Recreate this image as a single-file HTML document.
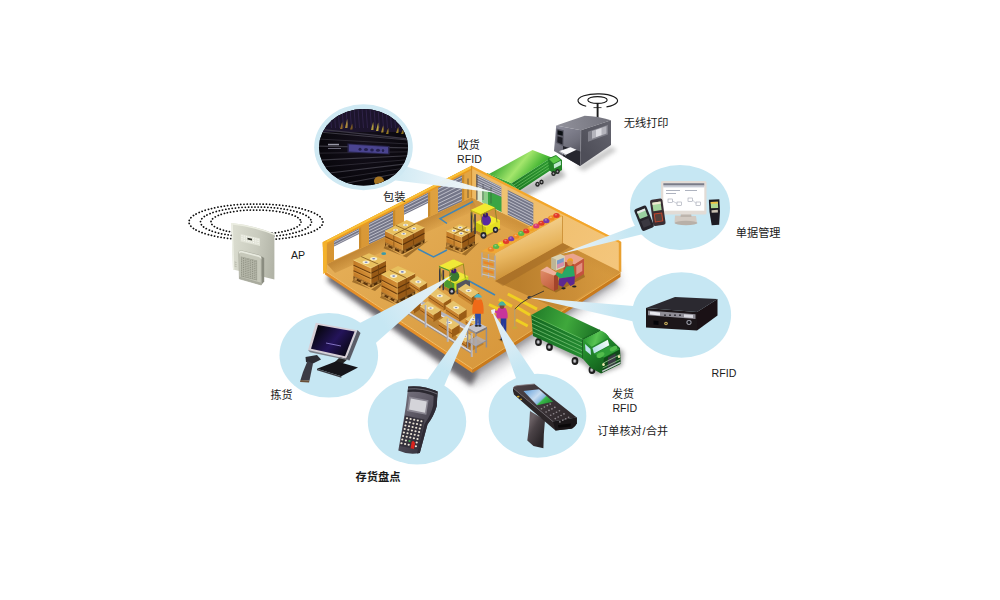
<!DOCTYPE html>
<html><head><meta charset="utf-8"><title>RFID warehouse</title>
<style>
html,body{margin:0;padding:0;background:#fff;}
body{width:1000px;height:600px;overflow:hidden;font-family:"Liberation Sans","Noto Sans CJK SC",sans-serif;}
svg{display:block;}
svg text{font-family:"Liberation Sans","Noto Sans CJK SC",sans-serif;}
</style></head><body>
<svg width="1000" height="600" viewBox="0 0 1000 600">
<defs>
<filter id="blur6" x="-20%" y="-20%" width="140%" height="140%"><feGaussianBlur stdDeviation="5"/></filter>
<filter id="blur2" x="-20%" y="-20%" width="140%" height="140%"><feGaussianBlur stdDeviation="2"/></filter>
<filter id="blur1" x="-20%" y="-20%" width="140%" height="140%"><feGaussianBlur stdDeviation="0.7"/></filter>
<filter id="blur3" x="-20%" y="-20%" width="140%" height="140%"><feGaussianBlur stdDeviation="2.6"/></filter>
<linearGradient id="t1top" gradientUnits="userSpaceOnUse" x1="500" y1="160" x2="532" y2="186"><stop offset="0" stop-color="#3aa832" stop-opacity="1"/><stop offset="0.45" stop-color="#a4e66c" stop-opacity="1"/><stop offset="0.8" stop-color="#4cba38" stop-opacity="1"/><stop offset="1" stop-color="#2f9a2a" stop-opacity="1"/></linearGradient>
<linearGradient id="t1side" gradientUnits="userSpaceOnUse" x1="515" y1="188" x2="552" y2="164"><stop offset="0" stop-color="#1f7a25" stop-opacity="1"/><stop offset="1" stop-color="#2c9a30" stop-opacity="1"/></linearGradient>
<linearGradient id="floor" gradientUnits="userSpaceOnUse" x1="380" y1="200" x2="520" y2="360"><stop offset="0" stop-color="#e6b059" stop-opacity="1"/><stop offset="0.5" stop-color="#dea349" stop-opacity="1"/><stop offset="1" stop-color="#d7963a" stop-opacity="1"/></linearGradient>
<linearGradient id="lws" gradientUnits="userSpaceOnUse" x1="400" y1="230" x2="408" y2="246"><stop offset="0" stop-color="#a86a1c" stop-opacity="0.55"/><stop offset="1" stop-color="#a86a1c" stop-opacity="0"/></linearGradient>
<linearGradient id="rws" gradientUnits="userSpaceOnUse" x1="545" y1="235" x2="540" y2="247"><stop offset="0" stop-color="#b87a28" stop-opacity="0.4"/><stop offset="1" stop-color="#b87a28" stop-opacity="0"/></linearGradient>
<linearGradient id="lw" gradientUnits="userSpaceOnUse" x1="330" y1="260" x2="470" y2="180"><stop offset="0" stop-color="#d69432" stop-opacity="1"/><stop offset="1" stop-color="#e2a544" stop-opacity="1"/></linearGradient>
<linearGradient id="rw" gradientUnits="userSpaceOnUse" x1="475" y1="180" x2="620" y2="260"><stop offset="0" stop-color="#edb962" stop-opacity="1"/><stop offset="1" stop-color="#f4c67c" stop-opacity="1"/></linearGradient>
<linearGradient id="offl" gradientUnits="userSpaceOnUse" x1="520" y1="262" x2="612" y2="262"><stop offset="0" stop-color="#b97e2c" stop-opacity="0.95"/><stop offset="0.6" stop-color="#c88c36" stop-opacity="0.8"/><stop offset="1" stop-color="#d29a42" stop-opacity="0.35"/></linearGradient>
<linearGradient id="shelf" gradientUnits="userSpaceOnUse" x1="520" y1="232" x2="532" y2="268"><stop offset="0" stop-color="#f2cc86" stop-opacity="1"/><stop offset="0.5" stop-color="#e8b660" stop-opacity="1"/><stop offset="1" stop-color="#cf943a" stop-opacity="1"/></linearGradient>
<linearGradient id="bsl385" gradientUnits="userSpaceOnUse" x1="385" y1="0" x2="402.5" y2="0"><stop offset="0" stop-color="#c27a26" stop-opacity="1"/><stop offset="1" stop-color="#d49038" stop-opacity="1"/></linearGradient>
<linearGradient id="bsl446" gradientUnits="userSpaceOnUse" x1="446.5" y1="0" x2="461.7" y2="0"><stop offset="0" stop-color="#c27a26" stop-opacity="1"/><stop offset="1" stop-color="#d49038" stop-opacity="1"/></linearGradient>
<linearGradient id="bsl353" gradientUnits="userSpaceOnUse" x1="353.5" y1="0" x2="371" y2="0"><stop offset="0" stop-color="#c27a26" stop-opacity="1"/><stop offset="1" stop-color="#d49038" stop-opacity="1"/></linearGradient>
<linearGradient id="bsl381" gradientUnits="userSpaceOnUse" x1="381.5" y1="0" x2="397.3" y2="0"><stop offset="0" stop-color="#c27a26" stop-opacity="1"/><stop offset="1" stop-color="#d49038" stop-opacity="1"/></linearGradient>
<linearGradient id="dk1" gradientUnits="userSpaceOnUse" x1="541" y1="272" x2="554" y2="290"><stop offset="0" stop-color="#de8866" stop-opacity="1"/><stop offset="1" stop-color="#c05c3a" stop-opacity="1"/></linearGradient>
<linearGradient id="t2top" gradientUnits="userSpaceOnUse" x1="535" y1="312" x2="598" y2="336"><stop offset="0" stop-color="#237f2a" stop-opacity="1"/><stop offset="0.5" stop-color="#3fa83c" stop-opacity="1"/><stop offset="1" stop-color="#1a7024" stop-opacity="1"/></linearGradient>
<linearGradient id="t2side" gradientUnits="userSpaceOnUse" x1="533" y1="320" x2="582" y2="350"><stop offset="0" stop-color="#166a22" stop-opacity="1"/><stop offset="1" stop-color="#238a30" stop-opacity="1"/></linearGradient>
<linearGradient id="t2cab" gradientUnits="userSpaceOnUse" x1="584" y1="345" x2="604" y2="372"><stop offset="0" stop-color="#2a9632" stop-opacity="1"/><stop offset="0.5" stop-color="#1c7a26" stop-opacity="1"/><stop offset="1" stop-color="#125a1a" stop-opacity="1"/></linearGradient>
<linearGradient id="t2roof" gradientUnits="userSpaceOnUse" x1="586" y1="336" x2="606" y2="342"><stop offset="0" stop-color="#2f9e36" stop-opacity="1"/><stop offset="0.5" stop-color="#58c452" stop-opacity="1"/><stop offset="1" stop-color="#2a9232" stop-opacity="1"/></linearGradient>
<linearGradient id="t2ws" gradientUnits="userSpaceOnUse" x1="593" y1="350" x2="608" y2="342"><stop offset="0" stop-color="#b8e0e8" stop-opacity="1"/><stop offset="1" stop-color="#f0faf6" stop-opacity="1"/></linearGradient>
<linearGradient id="tl1" gradientUnits="userSpaceOnUse" x1="370.0" y1="331.5" x2="452.0" y2="275.2"><stop offset="0" stop-color="#c6e7f3" stop-opacity="1"/><stop offset="0.15" stop-color="#c6e7f3" stop-opacity="1"/><stop offset="0.5" stop-color="#d8ecf5" stop-opacity="1"/><stop offset="1" stop-color="#e9f4fa" stop-opacity="0.96"/></linearGradient>
<linearGradient id="tl2" gradientUnits="userSpaceOnUse" x1="436.5" y1="381.0" x2="474.6" y2="313.5"><stop offset="0" stop-color="#c6e7f3" stop-opacity="1"/><stop offset="0.15" stop-color="#c6e7f3" stop-opacity="1"/><stop offset="0.5" stop-color="#d8ecf5" stop-opacity="1"/><stop offset="1" stop-color="#e9f4fa" stop-opacity="0.96"/></linearGradient>
<linearGradient id="tl3" gradientUnits="userSpaceOnUse" x1="526.0" y1="378.0" x2="491.5" y2="310.0"><stop offset="0" stop-color="#c6e7f3" stop-opacity="1"/><stop offset="0.15" stop-color="#c6e7f3" stop-opacity="1"/><stop offset="0.5" stop-color="#d8ecf5" stop-opacity="1"/><stop offset="1" stop-color="#e9f4fa" stop-opacity="0.96"/></linearGradient>
<linearGradient id="tl4" gradientUnits="userSpaceOnUse" x1="633.5" y1="313.8" x2="529.0" y2="297.5"><stop offset="0" stop-color="#c6e7f3" stop-opacity="1"/><stop offset="0.15" stop-color="#c6e7f3" stop-opacity="1"/><stop offset="0.5" stop-color="#d8ecf5" stop-opacity="1"/><stop offset="1" stop-color="#e9f4fa" stop-opacity="0.96"/></linearGradient>
<linearGradient id="tl5" gradientUnits="userSpaceOnUse" x1="641.2" y1="229.2" x2="561.0" y2="254.0"><stop offset="0" stop-color="#c6e7f3" stop-opacity="1"/><stop offset="0.15" stop-color="#c6e7f3" stop-opacity="1"/><stop offset="0.5" stop-color="#d8ecf5" stop-opacity="1"/><stop offset="1" stop-color="#e9f4fa" stop-opacity="0.96"/></linearGradient>
<linearGradient id="tl6" gradientUnits="userSpaceOnUse" x1="402" y1="174" x2="495" y2="192"><stop offset="0" stop-color="#d3ebf4" stop-opacity="1"/><stop offset="0.35" stop-color="#e4f2f8" stop-opacity="0.97"/><stop offset="1" stop-color="#f8fcfe" stop-opacity="0.95"/></linearGradient>
<linearGradient id="scr1" gradientUnits="userSpaceOnUse" x1="318" y1="328" x2="350" y2="354"><stop offset="0" stop-color="#07060f" stop-opacity="1"/><stop offset="0.5" stop-color="#24145a" stop-opacity="1"/><stop offset="1" stop-color="#06050c" stop-opacity="1"/></linearGradient>
<linearGradient id="hh1" gradientUnits="userSpaceOnUse" x1="400" y1="395" x2="436" y2="430"><stop offset="0" stop-color="#76727e" stop-opacity="1"/><stop offset="0.5" stop-color="#5a5662" stop-opacity="1"/><stop offset="1" stop-color="#3c3944" stop-opacity="1"/></linearGradient>
<linearGradient id="gh" gradientUnits="userSpaceOnUse" x1="528" y1="425" x2="545" y2="435"><stop offset="0" stop-color="#6a6064" stop-opacity="1"/><stop offset="0.35" stop-color="#4a4246" stop-opacity="1"/><stop offset="1" stop-color="#2a2528" stop-opacity="1"/></linearGradient>
<linearGradient id="gd" gradientUnits="userSpaceOnUse" x1="515" y1="388" x2="570" y2="424"><stop offset="0" stop-color="#4a4044" stop-opacity="1"/><stop offset="1" stop-color="#2e282b" stop-opacity="1"/></linearGradient>
<linearGradient id="gs" gradientUnits="userSpaceOnUse" x1="530" y1="389" x2="545" y2="405"><stop offset="0" stop-color="#7aaee0" stop-opacity="1"/><stop offset="0.45" stop-color="#c8dcf0" stop-opacity="1"/><stop offset="0.7" stop-color="#8ab8e0" stop-opacity="1"/><stop offset="0.78" stop-color="#38b848" stop-opacity="1"/><stop offset="1" stop-color="#2a9a3a" stop-opacity="1"/></linearGradient>
<clipPath id="dkc"><ellipse cx="363.5" cy="147.3" rx="44.5" ry="38.3"/></clipPath>
<radialGradient id="dkbg" cx="0.5" cy="0.45" r="0.6"><stop offset="0" stop-color="#15101c"/><stop offset="1" stop-color="#060509"/></radialGradient>
<linearGradient id="apb" gradientUnits="userSpaceOnUse" x1="232" y1="250" x2="275" y2="256"><stop offset="0" stop-color="#dadccf" stop-opacity="1"/><stop offset="0.55" stop-color="#c9cbbe" stop-opacity="1"/><stop offset="1" stop-color="#b2b4a7" stop-opacity="1"/></linearGradient>
<pattern id="mesh" width="1.8" height="1.8" patternUnits="userSpaceOnUse"><rect width="1.8" height="1.8" fill="#b4b6a8"/><rect width="0.9" height="0.9" fill="#8a8c7e"/></pattern>
<linearGradient id="ptop" gradientUnits="userSpaceOnUse" x1="560" y1="128" x2="606" y2="118"><stop offset="0" stop-color="#90909a" stop-opacity="1"/><stop offset="1" stop-color="#74747e" stop-opacity="1"/></linearGradient>
<linearGradient id="pfr" gradientUnits="userSpaceOnUse" x1="556" y1="130" x2="575" y2="160"><stop offset="0" stop-color="#8a8a98" stop-opacity="1"/><stop offset="0.55" stop-color="#70707c" stop-opacity="1"/><stop offset="1" stop-color="#4a4a54" stop-opacity="1"/></linearGradient>
<linearGradient id="pside" gradientUnits="userSpaceOnUse" x1="582" y1="150" x2="611" y2="128"><stop offset="0" stop-color="#4e4e58" stop-opacity="1"/><stop offset="1" stop-color="#62626c" stop-opacity="1"/></linearGradient>
</defs>
<polygon points="333.0,281.0 474.5,386.0 621.5,284.0 614.5,263.0 472.5,349.0" fill="#8a8a90" opacity="0.45" filter="url(#blur6)"/>
<polygon points="327.0,281.0 471.5,386.0 476.5,375.0 472.5,353.0 331.0,267.0" fill="#4e4a50" opacity="0.8" filter="url(#blur3)"/>
<polygon points="470.5,379.0 616.5,282.0 612.5,265.0 472.5,353.0" fill="#6a666a" opacity="0.5" filter="url(#blur3)"/>
<polygon points="512.0,192.0 560.0,168.0 566.0,176.0 524.0,198.0" fill="#777" opacity="0.5" filter="url(#blur2)"/>
<polygon points="487.0,173.0 511.7,183.3 519.0,191.0 514.0,200.0 487.0,188.0" fill="#3aa63a" />
<polygon points="489.0,174.0 532.5,150.0 551.7,157.5 511.7,183.3" fill="url(#t1top)" />
<polygon points="511.7,183.3 551.7,157.5 552.5,169.0 519.0,191.0" fill="url(#t1side)" />
<line x1="513.5" y1="185.2" x2="551.9" y2="160.4" stroke="#7fd070" stroke-width="0.6" />
<line x1="515.4" y1="187.2" x2="552.1" y2="163.2" stroke="#7fd070" stroke-width="0.6" />
<line x1="517.2" y1="189.1" x2="552.3" y2="166.1" stroke="#7fd070" stroke-width="0.6" />
<polygon points="548.0,158.5 556.0,155.0 562.0,160.0 562.0,170.0 555.0,174.5 549.0,170.0" fill="#238428" />
<polygon points="549.0,159.0 556.0,156.0 560.5,160.0 553.5,163.5" fill="#5cc848" />
<polygon points="553.8,164.2 560.8,160.8 561.0,165.0 554.0,168.6" fill="#bfe8d0" />
<ellipse cx="553.5" cy="173.5" rx="2.2" ry="2.5" fill="#222" />
<ellipse cx="553.5" cy="173.5" rx="0.9" ry="1.1" fill="#a8a8a8" />
<ellipse cx="557.5" cy="171.5" rx="2.2" ry="2.5" fill="#222" />
<ellipse cx="557.5" cy="171.5" rx="0.9" ry="1.1" fill="#a8a8a8" />
<ellipse cx="541.5" cy="182.0" rx="2.2" ry="2.5" fill="#222" />
<ellipse cx="541.5" cy="182.0" rx="0.9" ry="1.1" fill="#a8a8a8" />
<ellipse cx="537.5" cy="184.2" rx="2.2" ry="2.5" fill="#222" />
<ellipse cx="537.5" cy="184.2" rx="0.9" ry="1.1" fill="#a8a8a8" />
<polygon points="327.0,264.0 325.0,271.0 472.5,369.0 620.5,273.0 620.5,267.0 471.6,191.5 327.0,258.0" fill="url(#floor)" />
<polygon points="325.0,271.0 472.5,369.0 472.5,373.0 325.0,274.5" fill="#e58f28" />
<polygon points="472.5,369.0 620.5,273.0 620.5,277.0 472.5,373.0" fill="#c97a1c" />
<line x1="325.0" y1="271.0" x2="472.5" y2="369.0" stroke="#f4c067" stroke-width="1" />
<line x1="472.5" y1="369.0" x2="620.5" y2="273.0" stroke="#eab050" stroke-width="1" />
<polygon points="327.0,264.0 471.6,197.5 477.6,209.5 335.0,273.0" fill="url(#lws)" />
<polygon points="471.6,197.5 620.3,271.7 612.0,280.0 469.6,209.5" fill="url(#rws)" />
<polygon points="322.8,242.2 471.6,165.8 471.6,197.5 327.0,264.0 327.0,268.5 323.4,270.4" fill="url(#lw)" />
<polygon points="334.0,241.0 359.0,228.2 359.0,248.8 334.0,260.3" fill="#ffffff" />
<polygon points="334.0,241.0 359.0,228.2 359.0,234.0 334.0,246.4" fill="#747688" />
<line x1="334.0" y1="242.4" x2="359.0" y2="229.7" stroke="#dcdce4" stroke-width="0.7" />
<line x1="334.0" y1="245.1" x2="359.0" y2="232.5" stroke="#dcdce4" stroke-width="0.7" />
<polygon points="359.0,228.2 361.2,227.1 361.2,247.7 359.0,248.8" fill="#c98a2c" />
<polygon points="369.0,223.1 393.0,210.8 393.0,233.1 369.0,244.2" fill="#747688" />
<line x1="369.0" y1="224.6" x2="393.0" y2="212.4" stroke="#dcdce4" stroke-width="0.7" />
<line x1="369.0" y1="227.6" x2="393.0" y2="215.6" stroke="#dcdce4" stroke-width="0.7" />
<line x1="369.0" y1="230.6" x2="393.0" y2="218.8" stroke="#dcdce4" stroke-width="0.7" />
<line x1="369.0" y1="233.6" x2="393.0" y2="222.0" stroke="#dcdce4" stroke-width="0.7" />
<line x1="369.0" y1="236.6" x2="393.0" y2="225.2" stroke="#dcdce4" stroke-width="0.7" />
<line x1="369.0" y1="239.7" x2="393.0" y2="228.3" stroke="#dcdce4" stroke-width="0.7" />
<line x1="369.0" y1="242.7" x2="393.0" y2="231.5" stroke="#dcdce4" stroke-width="0.7" />
<polygon points="393.0,210.8 395.2,209.7 395.2,232.0 393.0,233.1" fill="#c98a2c" />
<polygon points="404.0,205.1 428.0,192.8 428.0,217.1 404.0,228.1" fill="#ffffff" />
<polygon points="404.0,205.1 428.0,192.8 428.0,203.0 404.0,214.8" fill="#747688" />
<line x1="404.0" y1="206.7" x2="428.0" y2="194.5" stroke="#dcdce4" stroke-width="0.7" />
<line x1="404.0" y1="209.9" x2="428.0" y2="197.9" stroke="#dcdce4" stroke-width="0.7" />
<line x1="404.0" y1="213.2" x2="428.0" y2="201.3" stroke="#dcdce4" stroke-width="0.7" />
<polygon points="428.0,192.8 430.2,191.7 430.2,216.0 428.0,217.1" fill="#c98a2c" />
<polygon points="438.0,187.7 462.0,175.3 462.0,201.4 438.0,212.5" fill="#747688" />
<line x1="438.0" y1="189.4" x2="462.0" y2="177.2" stroke="#dcdce4" stroke-width="0.7" />
<line x1="438.0" y1="193.0" x2="462.0" y2="180.9" stroke="#dcdce4" stroke-width="0.7" />
<line x1="438.0" y1="196.5" x2="462.0" y2="184.6" stroke="#dcdce4" stroke-width="0.7" />
<line x1="438.0" y1="200.1" x2="462.0" y2="188.4" stroke="#dcdce4" stroke-width="0.7" />
<line x1="438.0" y1="203.6" x2="462.0" y2="192.1" stroke="#dcdce4" stroke-width="0.7" />
<line x1="438.0" y1="207.1" x2="462.0" y2="195.8" stroke="#dcdce4" stroke-width="0.7" />
<line x1="438.0" y1="210.7" x2="462.0" y2="199.6" stroke="#dcdce4" stroke-width="0.7" />
<polygon points="462.0,175.3 464.2,174.2 464.2,200.3 462.0,201.4" fill="#c98a2c" />
<polygon points="322.8,242.2 471.6,165.8 471.6,170.1 322.8,246.7" fill="#ea9a20" />
<polygon points="322.8,242.2 471.6,165.8 471.6,168.2 322.8,244.8" fill="#f9c038" />
<polygon points="322.8,242.2 326.8,240.3 326.8,272.0 323.2,274.0" fill="#f4b22c" />
<polygon points="471.6,165.8 620.3,241.3 620.3,271.7 471.6,197.5" fill="url(#rw)" />
<polygon points="476.5,174.3 502.0,187.2 502.0,212.7 476.5,199.9" fill="#dfe9cf" />
<polygon points="488.0,191.1 502.0,193.2 502.0,212.2 488.0,205.2" fill="#39a544" />
<polygon points="482.0,190.1 488.0,191.1 488.0,205.2 482.0,202.2" fill="#8fce8a" />
<polygon points="476.5,174.3 502.0,187.2 502.0,197.2 476.5,186.3" fill="#77798a" />
<line x1="476.5" y1="175.5" x2="502.0" y2="188.2" stroke="#d8d8e0" stroke-width="0.7" />
<line x1="476.5" y1="177.9" x2="502.0" y2="190.2" stroke="#d8d8e0" stroke-width="0.7" />
<line x1="476.5" y1="180.3" x2="502.0" y2="192.2" stroke="#d8d8e0" stroke-width="0.7" />
<line x1="476.5" y1="182.7" x2="502.0" y2="194.2" stroke="#d8d8e0" stroke-width="0.7" />
<line x1="476.5" y1="185.1" x2="502.0" y2="196.2" stroke="#d8d8e0" stroke-width="0.7" />
<line x1="476.9" y1="174.3" x2="476.9" y2="199.9" stroke="#4a3a2a" stroke-width="1" />
<line x1="468.0" y1="178.5" x2="468.0" y2="198.0" stroke="#5a4a30" stroke-width="1" opacity="0.8"/>
<line x1="483.0" y1="184.0" x2="483.0" y2="200.0" stroke="#4a4a50" stroke-width="0.8" opacity="0.8"/>
<line x1="491.0" y1="187.0" x2="491.0" y2="203.5" stroke="#3a5a40" stroke-width="0.8" opacity="0.8"/>
<line x1="483.0" y1="188.0" x2="491.0" y2="191.5" stroke="#4a4a50" stroke-width="0.8" opacity="0.8"/>
<polygon points="507.5,190.0 533.3,203.1 533.3,227.3 507.5,214.4" fill="#747688" />
<line x1="507.5" y1="191.6" x2="533.3" y2="204.6" stroke="#dcdce4" stroke-width="0.7" />
<line x1="507.5" y1="194.6" x2="533.3" y2="207.7" stroke="#dcdce4" stroke-width="0.7" />
<line x1="507.5" y1="197.6" x2="533.3" y2="210.7" stroke="#dcdce4" stroke-width="0.7" />
<line x1="507.5" y1="200.7" x2="533.3" y2="213.7" stroke="#dcdce4" stroke-width="0.7" />
<line x1="507.5" y1="203.7" x2="533.3" y2="216.7" stroke="#dcdce4" stroke-width="0.7" />
<line x1="507.5" y1="206.8" x2="533.3" y2="219.7" stroke="#dcdce4" stroke-width="0.7" />
<line x1="507.5" y1="209.8" x2="533.3" y2="222.8" stroke="#dcdce4" stroke-width="0.7" />
<line x1="507.5" y1="212.9" x2="533.3" y2="225.8" stroke="#dcdce4" stroke-width="0.7" />
<polygon points="501.5,183.0 507.5,186.0 507.5,215.4 501.5,212.4" fill="#f0c270" />
<polygon points="471.6,165.8 620.3,241.3 620.3,243.5 471.6,168.2" fill="#f3a62a" />
<polygon points="618.8,240.8 621.3,242.1 621.3,272.0 618.8,271.0" fill="#e9a030" />
<line x1="471.6" y1="165.8" x2="471.6" y2="197.5" stroke="#c98628" stroke-width="1" />
<polygon points="495.0,281.0 562.5,243.0 620.0,271.5 560.0,310.0" fill="url(#offl)" />
<polygon points="495.0,281.0 562.5,243.0 570.0,247.0 503.0,286.0" fill="#9a6420" opacity="0.45" filter="url(#blur1)"/>
<polygon points="495.0,253.5 562.5,216.0 562.5,243.0 495.0,281.0" fill="url(#shelf)" />
<polygon points="481.7,251.0 556.0,213.5 562.5,216.0 495.0,253.5" fill="#f0a836" />
<line x1="562.5" y1="216.0" x2="562.5" y2="243.0" stroke="#c88a30" stroke-width="0.8" />
<ellipse cx="491.0" cy="249.2" rx="3.2" ry="2.5" fill="#e8862a" />
<ellipse cx="490.4" cy="248.4" rx="1.2" ry="0.8" fill="#ffffff" opacity="0.35"/>
<ellipse cx="496.1" cy="246.6" rx="3.2" ry="2.5" fill="#58b848" />
<ellipse cx="495.5" cy="245.8" rx="1.2" ry="0.8" fill="#ffffff" opacity="0.35"/>
<ellipse cx="501.1" cy="244.0" rx="3.2" ry="2.5" fill="#f0d020" />
<ellipse cx="500.5" cy="243.2" rx="1.2" ry="0.8" fill="#ffffff" opacity="0.35"/>
<ellipse cx="506.1" cy="241.4" rx="3.2" ry="2.5" fill="#e23a2a" />
<ellipse cx="505.5" cy="240.6" rx="1.2" ry="0.8" fill="#ffffff" opacity="0.35"/>
<ellipse cx="511.2" cy="238.8" rx="3.2" ry="2.5" fill="#7a3aa8" />
<ellipse cx="510.6" cy="238.0" rx="1.2" ry="0.8" fill="#ffffff" opacity="0.35"/>
<ellipse cx="516.2" cy="236.2" rx="3.2" ry="2.5" fill="#f08a20" />
<ellipse cx="515.6" cy="235.4" rx="1.2" ry="0.8" fill="#ffffff" opacity="0.35"/>
<ellipse cx="521.2" cy="233.6" rx="3.2" ry="2.5" fill="#58b848" />
<ellipse cx="520.6" cy="232.8" rx="1.2" ry="0.8" fill="#ffffff" opacity="0.35"/>
<ellipse cx="526.3" cy="231.1" rx="3.2" ry="2.5" fill="#e23a2a" />
<ellipse cx="525.7" cy="230.3" rx="1.2" ry="0.8" fill="#ffffff" opacity="0.35"/>
<ellipse cx="531.3" cy="228.5" rx="3.2" ry="2.5" fill="#f0a020" />
<ellipse cx="530.7" cy="227.7" rx="1.2" ry="0.8" fill="#ffffff" opacity="0.35"/>
<ellipse cx="536.3" cy="225.9" rx="3.2" ry="2.5" fill="#d83a70" />
<ellipse cx="535.7" cy="225.1" rx="1.2" ry="0.8" fill="#ffffff" opacity="0.35"/>
<ellipse cx="541.4" cy="223.3" rx="3.2" ry="2.5" fill="#e23a2a" />
<ellipse cx="540.8" cy="222.5" rx="1.2" ry="0.8" fill="#ffffff" opacity="0.35"/>
<ellipse cx="546.4" cy="220.7" rx="3.2" ry="2.5" fill="#7a3aa8" />
<ellipse cx="545.8" cy="219.9" rx="1.2" ry="0.8" fill="#ffffff" opacity="0.35"/>
<ellipse cx="551.4" cy="218.1" rx="3.2" ry="2.5" fill="#f08a20" />
<ellipse cx="550.8" cy="217.3" rx="1.2" ry="0.8" fill="#ffffff" opacity="0.35"/>
<ellipse cx="556.5" cy="215.5" rx="3.2" ry="2.5" fill="#e23a2a" />
<ellipse cx="555.9" cy="214.7" rx="1.2" ry="0.8" fill="#ffffff" opacity="0.35"/>
<polygon points="482.0,254.0 495.0,257.0 495.0,281.0 482.0,276.5" fill="#d9a04a" />
<line x1="482.0" y1="252.5" x2="482.0" y2="276.5" stroke="#a8a8b2" stroke-width="1.3" />
<line x1="488.5" y1="254.0" x2="488.5" y2="278.0" stroke="#a8a8b2" stroke-width="1.3" />
<line x1="495.0" y1="255.5" x2="495.0" y2="279.5" stroke="#a8a8b2" stroke-width="1.3" />
<line x1="482.0" y1="258.0" x2="495.0" y2="261.2" stroke="#c4c4cc" stroke-width="1.1" />
<line x1="482.0" y1="266.0" x2="495.0" y2="269.2" stroke="#c4c4cc" stroke-width="1.1" />
<line x1="482.0" y1="274.0" x2="495.0" y2="277.2" stroke="#c4c4cc" stroke-width="1.1" />
<polygon points="483.5,261.0 493.5,263.4 493.5,266.0 483.5,263.6" fill="#e8862a" />
<polygon points="483.5,269.0 493.5,271.4 493.5,274.0 483.5,271.6" fill="#e8862a" />
<polyline points="473,201.5 440,218.5 447,223.5" fill="none" stroke="#3f86b8" stroke-width="1.5"/>
<polyline points="418,249 433.5,257 447,250" fill="none" stroke="#3f86b8" stroke-width="1.5"/>
<ellipse cx="383.7" cy="253.7" rx="2.4" ry="1.4" fill="#3a9aa8" />
<line x1="465.8" y1="279.2" x2="495.0" y2="295.0" stroke="#3f86b8" stroke-width="1.6" />
<line x1="507.8" y1="294.0" x2="537.0" y2="309.2" stroke="#f2d51e" stroke-width="3" opacity="0.9"/>
<line x1="489.0" y1="304.5" x2="498.5" y2="309.0" stroke="#f2d51e" stroke-width="3" opacity="0.9"/>
<line x1="516.0" y1="306.8" x2="530.0" y2="315.0" stroke="#f2d51e" stroke-width="3" opacity="0.9"/>
<line x1="516.0" y1="319.7" x2="527.7" y2="326.0" stroke="#f2d51e" stroke-width="3" opacity="0.9"/>
<line x1="499.0" y1="299.5" x2="512.0" y2="306.3" stroke="#f2d51e" stroke-width="3" opacity="0.9"/>
<polygon points="385.0,245.8 402.5,256.0 424.5,242.5 428.5,240.5 406.5,257.5 383.5,248.3" fill="#6e4210" opacity="0.55" filter="url(#blur1)"/>
<polygon points="385.0,230.8 402.5,239.0 402.5,250.5 385.0,242.3" fill="url(#bsl385)" />
<polygon points="402.5,239.0 424.5,227.5 424.5,239.0 402.5,250.5" fill="#985a16" />
<polygon points="385.0,242.3 402.5,250.5 402.5,254.0 385.0,245.8" fill="#5e360c" />
<polygon points="402.5,250.5 424.5,239.0 424.5,242.5 402.5,254.0" fill="#4a2a08" />
<rect x="385.8" y="244.3" width="2.6" height="2.5" fill="#c08a40"/>
<rect x="403.9" y="250.1" width="2.4" height="2.5" fill="#9a6a28"/>
<rect x="392.4" y="247.4" width="2.6" height="2.5" fill="#c08a40"/>
<rect x="412.3" y="245.8" width="2.4" height="2.5" fill="#9a6a28"/>
<rect x="399.1" y="250.5" width="2.6" height="2.5" fill="#c08a40"/>
<rect x="420.7" y="241.4" width="2.4" height="2.5" fill="#9a6a28"/>
<line x1="385.0" y1="242.8" x2="402.5" y2="251.0" stroke="#b8823a" stroke-width="0.9" />
<line x1="402.5" y1="251.0" x2="424.5" y2="239.5" stroke="#8e5e22" stroke-width="0.9" />
<line x1="385.0" y1="236.6" x2="402.5" y2="244.8" stroke="#6e3f0e" stroke-width="1.2" />
<line x1="402.5" y1="244.8" x2="424.5" y2="233.2" stroke="#5a320a" stroke-width="1.2" />
<line x1="385.0" y1="237.7" x2="402.5" y2="245.8" stroke="#e2a850" stroke-width="0.5" />
<line x1="393.8" y1="234.9" x2="393.8" y2="246.4" stroke="#8a5618" stroke-width="0.8" />
<line x1="413.5" y1="233.2" x2="413.5" y2="244.8" stroke="#74440e" stroke-width="0.8" />
<line x1="402.5" y1="239.0" x2="402.5" y2="250.5" stroke="#e8b860" stroke-width="0.6" />
<polygon points="385.0,230.8 406.7,220.0 424.5,227.5 402.5,239.0" fill="#e8c05e" />
<line x1="395.9" y1="225.4" x2="413.5" y2="233.2" stroke="#8a6020" stroke-width="0.9" />
<line x1="393.8" y1="234.9" x2="415.6" y2="223.8" stroke="#8a6020" stroke-width="0.9" />
<ellipse cx="395.6" cy="230.0" rx="2.6" ry="1.3" fill="#f8f0d0" />
<ellipse cx="395.6" cy="230.0" rx="1.1" ry="0.6" fill="#7a86c0" />
<ellipse cx="405.6" cy="225.0" rx="2.6" ry="1.3" fill="#f8f0d0" />
<ellipse cx="405.6" cy="225.0" rx="1.1" ry="0.6" fill="#7a86c0" />
<ellipse cx="403.7" cy="233.7" rx="2.6" ry="1.3" fill="#f8f0d0" />
<ellipse cx="403.7" cy="233.7" rx="1.1" ry="0.6" fill="#7a86c0" />
<ellipse cx="413.8" cy="228.5" rx="2.6" ry="1.3" fill="#f8f0d0" />
<ellipse cx="413.8" cy="228.5" rx="1.1" ry="0.6" fill="#7a86c0" />
<line x1="385.0" y1="230.8" x2="402.5" y2="239.0" stroke="#f8e09a" stroke-width="0.6" />
<line x1="402.5" y1="239.0" x2="424.5" y2="227.5" stroke="#f2d488" stroke-width="0.6" />
<polygon points="446.5,246.0 461.7,254.0 475.0,244.5 479.0,242.5 465.7,255.5 445.0,248.5" fill="#6e4210" opacity="0.55" filter="url(#blur1)"/>
<polygon points="446.5,231.0 461.7,237.0 461.7,248.5 446.5,242.5" fill="url(#bsl446)" />
<polygon points="461.7,237.0 475.0,229.5 475.0,241.0 461.7,248.5" fill="#985a16" />
<polygon points="446.5,242.5 461.7,248.5 461.7,252.0 446.5,246.0" fill="#5e360c" />
<polygon points="461.7,248.5 475.0,241.0 475.0,244.5 461.7,252.0" fill="#4a2a08" />
<rect x="447.0" y="244.2" width="2.6" height="2.5" fill="#c08a40"/>
<rect x="462.1" y="248.6" width="2.4" height="2.5" fill="#9a6a28"/>
<rect x="452.8" y="246.5" width="2.6" height="2.5" fill="#c08a40"/>
<rect x="467.2" y="245.8" width="2.4" height="2.5" fill="#9a6a28"/>
<rect x="458.6" y="248.8" width="2.6" height="2.5" fill="#c08a40"/>
<rect x="472.2" y="242.9" width="2.4" height="2.5" fill="#9a6a28"/>
<line x1="446.5" y1="243.0" x2="461.7" y2="249.0" stroke="#b8823a" stroke-width="0.9" />
<line x1="461.7" y1="249.0" x2="475.0" y2="241.5" stroke="#8e5e22" stroke-width="0.9" />
<line x1="446.5" y1="236.8" x2="461.7" y2="242.8" stroke="#6e3f0e" stroke-width="1.2" />
<line x1="461.7" y1="242.8" x2="475.0" y2="235.2" stroke="#5a320a" stroke-width="1.2" />
<line x1="446.5" y1="237.8" x2="461.7" y2="243.8" stroke="#e2a850" stroke-width="0.5" />
<line x1="454.1" y1="234.0" x2="454.1" y2="245.5" stroke="#8a5618" stroke-width="0.8" />
<line x1="468.4" y1="233.2" x2="468.4" y2="244.8" stroke="#74440e" stroke-width="0.8" />
<line x1="461.7" y1="237.0" x2="461.7" y2="248.5" stroke="#e8b860" stroke-width="0.6" />
<polygon points="446.5,231.0 459.5,224.2 475.0,229.5 461.7,237.0" fill="#e8c05e" />
<line x1="453.0" y1="227.6" x2="468.4" y2="233.2" stroke="#8a6020" stroke-width="0.9" />
<line x1="454.1" y1="234.0" x2="467.2" y2="226.8" stroke="#8a6020" stroke-width="0.9" />
<ellipse cx="454.1" cy="230.7" rx="2.6" ry="1.3" fill="#f8f0d0" />
<ellipse cx="454.1" cy="230.7" rx="1.1" ry="0.6" fill="#7a86c0" />
<ellipse cx="460.2" cy="227.5" rx="2.6" ry="1.3" fill="#f8f0d0" />
<ellipse cx="460.2" cy="227.5" rx="1.1" ry="0.6" fill="#7a86c0" />
<ellipse cx="461.2" cy="233.4" rx="2.6" ry="1.3" fill="#f8f0d0" />
<ellipse cx="461.2" cy="233.4" rx="1.1" ry="0.6" fill="#7a86c0" />
<ellipse cx="467.2" cy="230.0" rx="2.6" ry="1.3" fill="#f8f0d0" />
<ellipse cx="467.2" cy="230.0" rx="1.1" ry="0.6" fill="#7a86c0" />
<line x1="446.5" y1="231.0" x2="461.7" y2="237.0" stroke="#f8e09a" stroke-width="0.6" />
<line x1="461.7" y1="237.0" x2="475.0" y2="229.5" stroke="#f2d488" stroke-width="0.6" />
<polygon points="353.5,279.5 371.0,289.5 386.0,280.0 390.0,278.0 375.0,291.0 352.0,282.0" fill="#6e4210" opacity="0.55" filter="url(#blur1)"/>
<polygon points="353.5,260.0 371.0,268.0 371.0,284.0 353.5,276.0" fill="url(#bsl353)" />
<polygon points="371.0,268.0 386.0,260.5 386.0,276.5 371.0,284.0" fill="#985a16" />
<polygon points="353.5,276.0 371.0,284.0 371.0,287.5 353.5,279.5" fill="#5e360c" />
<polygon points="371.0,284.0 386.0,276.5 386.0,280.0 371.0,287.5" fill="#4a2a08" />
<rect x="354.3" y="278.0" width="2.6" height="2.5" fill="#c08a40"/>
<rect x="371.6" y="284.1" width="2.4" height="2.5" fill="#9a6a28"/>
<rect x="360.9" y="281.0" width="2.6" height="2.5" fill="#c08a40"/>
<rect x="377.3" y="281.2" width="2.4" height="2.5" fill="#9a6a28"/>
<rect x="367.6" y="284.0" width="2.6" height="2.5" fill="#c08a40"/>
<rect x="383.0" y="278.4" width="2.4" height="2.5" fill="#9a6a28"/>
<line x1="353.5" y1="276.5" x2="371.0" y2="284.5" stroke="#b8823a" stroke-width="0.9" />
<line x1="371.0" y1="284.5" x2="386.0" y2="277.0" stroke="#8e5e22" stroke-width="0.9" />
<line x1="353.5" y1="265.3" x2="371.0" y2="273.3" stroke="#6e3f0e" stroke-width="1.2" />
<line x1="371.0" y1="273.3" x2="386.0" y2="265.8" stroke="#5a320a" stroke-width="1.2" />
<line x1="353.5" y1="266.4" x2="371.0" y2="274.4" stroke="#e2a850" stroke-width="0.5" />
<line x1="353.5" y1="270.7" x2="371.0" y2="278.7" stroke="#6e3f0e" stroke-width="1.2" />
<line x1="371.0" y1="278.7" x2="386.0" y2="271.2" stroke="#5a320a" stroke-width="1.2" />
<line x1="353.5" y1="271.8" x2="371.0" y2="279.8" stroke="#e2a850" stroke-width="0.5" />
<line x1="378.5" y1="264.2" x2="378.5" y2="280.2" stroke="#74440e" stroke-width="0.8" />
<line x1="371.0" y1="268.0" x2="371.0" y2="284.0" stroke="#e8b860" stroke-width="0.6" />
<polygon points="353.5,260.0 369.0,253.3 386.0,260.5 371.0,268.0" fill="#e8c05e" />
<line x1="361.2" y1="256.6" x2="378.5" y2="264.2" stroke="#8a6020" stroke-width="0.9" />
<ellipse cx="366.1" cy="262.2" rx="3.6" ry="1.8" fill="#f8f0d0" />
<ellipse cx="366.1" cy="262.2" rx="1.5" ry="0.8" fill="#7a86c0" />
<ellipse cx="373.7" cy="258.7" rx="3.6" ry="1.8" fill="#f8f0d0" />
<ellipse cx="373.7" cy="258.7" rx="1.5" ry="0.8" fill="#7a86c0" />
<line x1="353.5" y1="260.0" x2="371.0" y2="268.0" stroke="#f8e09a" stroke-width="0.6" />
<line x1="371.0" y1="268.0" x2="386.0" y2="260.5" stroke="#f2d488" stroke-width="0.6" />
<polygon points="381.5,295.2 397.3,305.4 415.2,294.4 419.2,292.4 401.3,306.9 380.0,297.7" fill="#6e4210" opacity="0.55" filter="url(#blur1)"/>
<polygon points="381.5,274.2 397.3,282.4 397.3,299.9 381.5,291.7" fill="url(#bsl381)" />
<polygon points="397.3,282.4 415.2,273.4 415.2,290.9 397.3,299.9" fill="#985a16" />
<polygon points="381.5,291.7 397.3,299.9 397.3,303.4 381.5,295.2" fill="#5e360c" />
<polygon points="397.3,299.9 415.2,290.9 415.2,294.4 397.3,303.4" fill="#4a2a08" />
<rect x="382.1" y="293.7" width="2.6" height="2.5" fill="#c08a40"/>
<rect x="398.2" y="299.8" width="2.4" height="2.5" fill="#9a6a28"/>
<rect x="388.1" y="296.8" width="2.6" height="2.5" fill="#c08a40"/>
<rect x="405.1" y="296.4" width="2.4" height="2.5" fill="#9a6a28"/>
<rect x="394.1" y="299.9" width="2.6" height="2.5" fill="#c08a40"/>
<rect x="411.9" y="293.0" width="2.4" height="2.5" fill="#9a6a28"/>
<line x1="381.5" y1="292.2" x2="397.3" y2="300.4" stroke="#b8823a" stroke-width="0.9" />
<line x1="397.3" y1="300.4" x2="415.2" y2="291.4" stroke="#8e5e22" stroke-width="0.9" />
<line x1="381.5" y1="280.0" x2="397.3" y2="288.2" stroke="#6e3f0e" stroke-width="1.2" />
<line x1="397.3" y1="288.2" x2="415.2" y2="279.2" stroke="#5a320a" stroke-width="1.2" />
<line x1="381.5" y1="281.1" x2="397.3" y2="289.3" stroke="#e2a850" stroke-width="0.5" />
<line x1="381.5" y1="285.9" x2="397.3" y2="294.1" stroke="#6e3f0e" stroke-width="1.2" />
<line x1="397.3" y1="294.1" x2="415.2" y2="285.1" stroke="#5a320a" stroke-width="1.2" />
<line x1="381.5" y1="287.0" x2="397.3" y2="295.2" stroke="#e2a850" stroke-width="0.5" />
<line x1="406.2" y1="277.9" x2="406.2" y2="295.4" stroke="#74440e" stroke-width="0.8" />
<line x1="397.3" y1="282.4" x2="397.3" y2="299.9" stroke="#e8b860" stroke-width="0.6" />
<polygon points="381.5,274.2 398.0,266.0 415.2,273.4 397.3,282.4" fill="#e8c05e" />
<line x1="389.8" y1="270.1" x2="406.2" y2="277.9" stroke="#8a6020" stroke-width="0.9" />
<ellipse cx="393.7" cy="276.1" rx="3.6" ry="1.8" fill="#f8f0d0" />
<ellipse cx="393.7" cy="276.1" rx="1.5" ry="0.8" fill="#7a86c0" />
<ellipse cx="402.3" cy="271.9" rx="3.6" ry="1.8" fill="#f8f0d0" />
<ellipse cx="402.3" cy="271.9" rx="1.5" ry="0.8" fill="#7a86c0" />
<line x1="381.5" y1="274.2" x2="397.3" y2="282.4" stroke="#f8e09a" stroke-width="0.6" />
<line x1="397.3" y1="282.4" x2="415.2" y2="273.4" stroke="#f2d488" stroke-width="0.6" />
<polygon points="470.0,229.3 484.0,238.3 501.0,229.3 490.0,222.3" fill="#7a4a10" opacity="0.45" filter="url(#blur1)"/>
<line x1="471.5" y1="212.3" x2="471.5" y2="232.3" stroke="#3a3a40" stroke-width="1.6" />
<line x1="475.0" y1="214.3" x2="475.0" y2="234.3" stroke="#3a3a40" stroke-width="1.6" />
<polygon points="476.0,222.3 490.0,215.8 500.0,220.3 500.0,228.3 486.0,235.3 476.0,230.3" fill="#e6de22" />
<polygon points="476.0,222.3 486.0,227.3 486.0,235.3 476.0,230.3" fill="#c8c010" />
<polygon points="476.0,222.3 490.0,215.8 500.0,220.3 486.0,227.3" fill="#f2ea30" />
<ellipse cx="486.0" cy="220.3" rx="5.0" ry="5.3" fill="#5a2aa0" />
<ellipse cx="485.5" cy="214.8" rx="2.6" ry="2.6" fill="#3a1a70" />
<ellipse cx="483.5" cy="235.3" rx="3.0" ry="3.4" fill="#26262c" />
<ellipse cx="483.5" cy="235.3" rx="1.3" ry="1.5" fill="#b8b8c8" />
<ellipse cx="495.5" cy="229.8" rx="2.7" ry="3.1" fill="#26262c" />
<ellipse cx="495.5" cy="229.8" rx="1.2" ry="1.4" fill="#b8b8c8" />
<line x1="471.0" y1="209.8" x2="475.0" y2="227.3" stroke="#8a8420" stroke-width="0.9" />
<line x1="485.0" y1="203.3" x2="485.3" y2="215.3" stroke="#8a8420" stroke-width="0.9" />
<line x1="495.0" y1="207.8" x2="497.0" y2="222.3" stroke="#8a8420" stroke-width="0.9" />
<line x1="481.0" y1="214.3" x2="483.0" y2="231.3" stroke="#8a8420" stroke-width="0.9" />
<polygon points="470.8,210.0 485.0,203.3 495.0,207.5 480.8,214.2" fill="#f2ea30" />
<polygon points="470.8,210.0 480.8,214.2 480.8,215.3 470.8,211.1" fill="#c8c010" />
<polygon points="480.8,214.2 495.0,207.5 495.0,208.6 480.8,215.3" fill="#b0a810" />
<polygon points="438.3,285.2 452.3,294.2 469.3,285.2 458.3,278.2" fill="#7a4a10" opacity="0.45" filter="url(#blur1)"/>
<line x1="439.8" y1="268.2" x2="439.8" y2="288.2" stroke="#3a3a40" stroke-width="1.6" />
<line x1="443.3" y1="270.2" x2="443.3" y2="290.2" stroke="#3a3a40" stroke-width="1.6" />
<polygon points="444.3,278.2 458.3,271.7 468.3,276.2 468.3,284.2 454.3,291.2 444.3,286.2" fill="#c8d820" />
<polygon points="444.3,278.2 454.3,283.2 454.3,291.2 444.3,286.2" fill="#4a9a30" />
<polygon points="444.3,278.2 458.3,271.7 468.3,276.2 454.3,283.2" fill="#f0e838" />
<ellipse cx="454.3" cy="276.2" rx="5.0" ry="5.3" fill="#3a7a30" />
<ellipse cx="453.8" cy="270.7" rx="2.6" ry="2.6" fill="#3a1a70" />
<ellipse cx="451.8" cy="291.2" rx="3.0" ry="3.4" fill="#26262c" />
<ellipse cx="451.8" cy="291.2" rx="1.3" ry="1.5" fill="#b8b8c8" />
<ellipse cx="463.8" cy="285.7" rx="2.7" ry="3.1" fill="#26262c" />
<ellipse cx="463.8" cy="285.7" rx="1.2" ry="1.4" fill="#b8b8c8" />
<line x1="439.3" y1="265.7" x2="443.3" y2="283.2" stroke="#8a8420" stroke-width="0.9" />
<line x1="453.3" y1="259.2" x2="453.6" y2="271.2" stroke="#8a8420" stroke-width="0.9" />
<line x1="463.3" y1="263.7" x2="465.3" y2="278.2" stroke="#8a8420" stroke-width="0.9" />
<line x1="449.3" y1="270.2" x2="451.3" y2="287.2" stroke="#8a8420" stroke-width="0.9" />
<polygon points="439.1,265.9 453.3,259.2 463.3,263.4 449.1,270.1" fill="#f0e838" />
<polygon points="439.1,265.9 449.1,270.1 449.1,271.2 439.1,267.0" fill="#4a9a30" />
<polygon points="449.1,270.1 463.3,263.4 463.3,264.5 449.1,271.2" fill="#b0a810" />
<polygon points="456.5,284.0 466.0,279.5 470.0,281.5 470.0,291.5 461.0,296.0 456.5,293.5" fill="#55555f" />
<polygon points="409.5,287.0 419.5,293.6 419.5,287.6 409.5,281.0" fill="#c88430" />
<polygon points="419.5,293.6 427.1,288.7 427.1,282.7 419.5,287.6" fill="#9a5c16" />
<line x1="409.5" y1="284.3" x2="419.5" y2="290.9" stroke="#8a5216" stroke-width="1.0" />
<polygon points="409.5,281.0 417.1,276.1 427.1,282.7 419.5,287.6" fill="#e8c46c" />
<ellipse cx="418.3" cy="281.8" rx="3.0" ry="1.5" fill="#f8f0d4" />
<ellipse cx="418.3" cy="281.8" rx="1.2" ry="0.6" fill="#7a86c0" />
<line x1="409.5" y1="281.0" x2="419.5" y2="287.6" stroke="#f6dc98" stroke-width="0.6" />
<polygon points="458.2,296.2 471.5,305.0 471.5,297.5 458.2,288.7" fill="#c88430" />
<polygon points="471.5,305.0 479.1,300.1 479.1,292.6 471.5,297.5" fill="#9a5c16" />
<line x1="458.2" y1="292.8" x2="471.5" y2="301.6" stroke="#8a5216" stroke-width="1.0" />
<polygon points="458.2,288.7 465.7,283.8 479.1,292.6 471.5,297.5" fill="#e8c46c" />
<ellipse cx="468.6" cy="290.6" rx="3.0" ry="1.5" fill="#f8f0d4" />
<ellipse cx="468.6" cy="290.6" rx="1.2" ry="0.6" fill="#7a86c0" />
<line x1="458.2" y1="288.7" x2="471.5" y2="297.5" stroke="#f6dc98" stroke-width="0.6" />
<polygon points="406.0,311.0 470.0,352.0 484.0,344.0 428.0,303.0" fill="#8a5414" opacity="0.4" filter="url(#blur1)"/>
<polygon points="428.5,300.6 443.5,310.6 443.5,303.1 428.5,293.1" fill="#c88430" />
<polygon points="443.5,310.6 451.1,305.7 451.1,298.2 443.5,303.1" fill="#9a5c16" />
<line x1="428.5" y1="297.3" x2="443.5" y2="307.2" stroke="#8a5216" stroke-width="1.0" />
<polygon points="428.5,293.1 436.1,288.2 451.1,298.2 443.5,303.1" fill="#e8c46c" />
<ellipse cx="439.8" cy="295.7" rx="3.0" ry="1.5" fill="#f8f0d4" />
<ellipse cx="439.8" cy="295.7" rx="1.2" ry="0.6" fill="#7a86c0" />
<line x1="428.5" y1="293.1" x2="443.5" y2="303.1" stroke="#f6dc98" stroke-width="0.6" />
<polygon points="445.7,313.2 459.0,322.0 459.0,314.5 445.7,305.7" fill="#c88430" />
<polygon points="459.0,322.0 466.6,317.1 466.6,309.6 459.0,314.5" fill="#9a5c16" />
<line x1="445.7" y1="309.8" x2="459.0" y2="318.6" stroke="#8a5216" stroke-width="1.0" />
<polygon points="445.7,305.7 453.2,300.8 466.6,309.6 459.0,314.5" fill="#e8c46c" />
<ellipse cx="456.1" cy="307.6" rx="3.0" ry="1.5" fill="#f8f0d4" />
<ellipse cx="456.1" cy="307.6" rx="1.2" ry="0.6" fill="#7a86c0" />
<line x1="445.7" y1="305.7" x2="459.0" y2="314.5" stroke="#f6dc98" stroke-width="0.6" />
<polygon points="465.7,325.0 474.0,330.5 474.0,324.5 465.7,319.0" fill="#c88430" />
<polygon points="474.0,330.5 480.7,326.1 480.7,320.1 474.0,324.5" fill="#9a5c16" />
<line x1="465.7" y1="322.3" x2="474.0" y2="327.8" stroke="#8a5216" stroke-width="1.0" />
<polygon points="465.7,319.0 472.4,314.6 480.7,320.1 474.0,324.5" fill="#e8c46c" />
<ellipse cx="473.2" cy="319.6" rx="3.0" ry="1.5" fill="#f8f0d4" />
<ellipse cx="473.2" cy="319.6" rx="1.2" ry="0.6" fill="#7a86c0" />
<line x1="465.7" y1="319.0" x2="474.0" y2="324.5" stroke="#f6dc98" stroke-width="0.6" />
<polygon points="416.0,301.5 419.5,299.5 470.5,327.5 467.0,329.8" fill="#b4b4be" />
<line x1="416.0" y1="301.5" x2="467.0" y2="329.8" stroke="#e2e2ea" stroke-width="1.4" />
<polygon points="409.8,310.6 414.0,313.4 414.0,306.9 409.8,304.1" fill="#c88430" />
<polygon points="414.0,313.4 420.7,309.0 420.7,302.5 414.0,306.9" fill="#9a5c16" />
<line x1="409.8" y1="307.7" x2="414.0" y2="310.5" stroke="#8a5216" stroke-width="1.0" />
<polygon points="409.8,304.1 416.5,299.8 420.7,302.5 414.0,306.9" fill="#e8c46c" />
<ellipse cx="415.3" cy="303.3" rx="3.0" ry="1.5" fill="#f8f0d4" />
<ellipse cx="415.3" cy="303.3" rx="1.2" ry="0.6" fill="#7a86c0" />
<line x1="409.8" y1="304.1" x2="414.0" y2="306.9" stroke="#f6dc98" stroke-width="0.6" />
<polygon points="420.2,313.2 433.5,322.0 433.5,315.0 420.2,306.2" fill="#c88430" />
<polygon points="433.5,322.0 441.1,317.1 441.1,310.1 433.5,315.0" fill="#9a5c16" />
<line x1="420.2" y1="310.0" x2="433.5" y2="318.9" stroke="#8a5216" stroke-width="1.0" />
<polygon points="420.2,306.2 427.7,301.3 441.1,310.1 433.5,315.0" fill="#e8c46c" />
<ellipse cx="430.6" cy="308.1" rx="3.0" ry="1.5" fill="#f8f0d4" />
<ellipse cx="430.6" cy="308.1" rx="1.2" ry="0.6" fill="#7a86c0" />
<line x1="420.2" y1="306.2" x2="433.5" y2="315.0" stroke="#f6dc98" stroke-width="0.6" />
<polygon points="438.7,328.6 452.0,337.4 452.0,329.4 438.7,320.6" fill="#c88430" />
<polygon points="452.0,337.4 459.6,332.5 459.6,324.5 452.0,329.4" fill="#9a5c16" />
<line x1="438.7" y1="325.0" x2="452.0" y2="333.8" stroke="#8a5216" stroke-width="1.0" />
<polygon points="438.7,320.6 446.2,315.7 459.6,324.5 452.0,329.4" fill="#e8c46c" />
<ellipse cx="449.1" cy="322.5" rx="3.0" ry="1.5" fill="#f8f0d4" />
<ellipse cx="449.1" cy="322.5" rx="1.2" ry="0.6" fill="#7a86c0" />
<line x1="438.7" y1="320.6" x2="452.0" y2="329.4" stroke="#f6dc98" stroke-width="0.6" />
<polygon points="456.0,342.4 466.0,349.0 466.0,342.0 456.0,335.4" fill="#c88430" />
<polygon points="466.0,349.0 473.6,344.1 473.6,337.1 466.0,342.0" fill="#9a5c16" />
<line x1="456.0" y1="339.2" x2="466.0" y2="345.9" stroke="#8a5216" stroke-width="1.0" />
<polygon points="456.0,335.4 463.6,330.5 473.6,337.1 466.0,342.0" fill="#e8c46c" />
<ellipse cx="464.8" cy="336.2" rx="3.0" ry="1.5" fill="#f8f0d4" />
<ellipse cx="464.8" cy="336.2" rx="1.2" ry="0.6" fill="#7a86c0" />
<line x1="456.0" y1="335.4" x2="466.0" y2="342.0" stroke="#f6dc98" stroke-width="0.6" />
<line x1="406.5" y1="311.5" x2="471.0" y2="351.8" stroke="#d6d6de" stroke-width="1.6" />
<line x1="406.5" y1="313.0" x2="471.0" y2="353.2" stroke="#8a8a94" stroke-width="0.9" />
<line x1="407.5" y1="299.0" x2="407.5" y2="313.0" stroke="#a6a6b0" stroke-width="1.6" />
<line x1="408.2" y1="299.0" x2="408.2" y2="313.0" stroke="#e6e6ee" stroke-width="0.5" />
<line x1="425.5" y1="305.0" x2="425.5" y2="327.5" stroke="#a6a6b0" stroke-width="1.6" />
<line x1="426.2" y1="305.0" x2="426.2" y2="327.5" stroke="#e6e6ee" stroke-width="0.5" />
<line x1="447.5" y1="318.5" x2="447.5" y2="341.8" stroke="#a6a6b0" stroke-width="1.6" />
<line x1="448.2" y1="318.5" x2="448.2" y2="341.8" stroke="#e6e6ee" stroke-width="0.5" />
<line x1="471.5" y1="333.0" x2="471.5" y2="357.0" stroke="#a6a6b0" stroke-width="1.6" />
<line x1="472.2" y1="333.0" x2="472.2" y2="357.0" stroke="#e6e6ee" stroke-width="0.5" />
<polygon points="467.0,327.5 478.0,322.5 487.0,327.0 476.0,332.5" fill="#c4c4cc" />
<polygon points="467.0,327.5 476.0,332.5 476.0,334.2 467.0,329.2" fill="#8e8e98" />
<polygon points="476.0,332.5 487.0,327.0 487.0,328.7 476.0,334.2" fill="#75757f" />
<line x1="467.6" y1="329.0" x2="467.6" y2="348.0" stroke="#8e8e98" stroke-width="1.5" />
<line x1="476.0" y1="334.0" x2="476.0" y2="353.0" stroke="#8e8e98" stroke-width="1.5" />
<line x1="486.4" y1="328.5" x2="486.4" y2="347.5" stroke="#8e8e98" stroke-width="1.5" />
<line x1="467.6" y1="341.0" x2="476.0" y2="346.0" stroke="#a2a2ac" stroke-width="1.1" />
<line x1="476.0" y1="346.0" x2="486.4" y2="340.5" stroke="#8a8a94" stroke-width="1.1" />
<polygon points="468.0,340.5 477.0,336.0 486.0,340.5 476.0,346.0" fill="#b0b0ba" opacity="0.8"/>
<polygon points="475.1,312.8 480.9,312.8 480.7,325.5 478.5,325.5 478.0,317.8 477.5,325.5 475.3,325.5" fill="#2a4aa8" />
<ellipse cx="476.5" cy="325.8" rx="1.8" ry="0.9" fill="#222" />
<ellipse cx="479.8" cy="325.8" rx="1.8" ry="0.9" fill="#222" />
<path d="M474.3,299.8 q-2.5,5.6 -1.8,14.0 l11.0,0 q0.7,-8.4 -1.8,-14.0 q-3.7,-1.6 -7.4,0 Z" fill="#f06a18"/>
<ellipse cx="478.0" cy="297.3" rx="2.5" ry="2.9" fill="#d88a50" />
<path d="M474.5,296.3 q3.4,-5.0 7,0 l0.3,1.2 l-7.6,0 Z" fill="#4ab8c8"/>
<polygon points="498.0,339.5 506.0,337.0 511.0,339.5 503.0,342.5" fill="#7a4a10" opacity="0.4" filter="url(#blur1)"/>
<polygon points="500.6,317.5 506.4,317.5 506.2,339.3 504.0,339.3 503.5,322.5 503.0,339.3 500.8,339.3" fill="#24389a" />
<ellipse cx="502.0" cy="339.6" rx="1.8" ry="0.9" fill="#222" />
<ellipse cx="505.3" cy="339.6" rx="1.8" ry="0.9" fill="#222" />
<path d="M498.3,308.3 q-2.5,4.1 -1.8,10.2 l11.0,0 q0.7,-6.1 -1.8,-10.2 q-3.7,-1.6 -7.4,0 Z" fill="#c8349a"/>
<ellipse cx="502.0" cy="305.4" rx="2.5" ry="3.4" fill="#7a4a30" />
<path d="M498.5,304.2 q3.4,-5.8 7,0 l0.3,1.2 l-7.6,0 Z" fill="#48b0a0"/>
<polygon points="491.0,310.0 495.0,309.0 495.8,313.0 491.8,314.0" fill="#f0f0f6" />
<line x1="495.0" y1="311.5" x2="498.0" y2="312.5" stroke="#c8349a" stroke-width="2" />
<line x1="514.8" y1="309.0" x2="514.8" y2="327.0" stroke="#a8a080" stroke-width="0.9" />
<ellipse cx="514.8" cy="327.8" rx="2.8" ry="1.3" fill="#c8a838" />
<path d="M514.8,309 Q520,303 530,297.5 L544,291" fill="none" stroke="#33302c" stroke-width="0.9"/>
<ellipse cx="529.5" cy="297.2" rx="2.0" ry="1.2" fill="#3a3a44" />
<polygon points="542.0,286.0 556.0,292.5 585.0,277.0 583.0,272.0" fill="#6a3e10" opacity="0.4" filter="url(#blur1)"/>
<polygon points="562.0,256.0 573.0,253.5 584.0,258.5 574.5,264.5 563.5,261.5" fill="#eaa48e" />
<polygon points="574.5,264.5 584.0,258.5 584.0,274.0 574.5,279.5" fill="#c4523e" />
<polygon points="576.3,266.3 582.3,262.6 582.3,271.0 576.3,274.8" fill="#e29080" />
<polygon points="563.5,261.5 574.5,264.5 574.5,279.5 563.5,275.5" fill="#b04a30" />
<polygon points="551.5,257.5 560.5,254.0 564.8,256.0 564.8,267.0 556.0,270.5 551.5,268.5" fill="#d9d2b4" />
<polygon points="551.5,257.5 556.0,259.5 556.0,270.5 551.5,268.5" fill="#bdb596" />
<polygon points="557.0,260.5 563.8,257.8 563.8,265.8 557.0,268.6" fill="#7a9ac8" />
<polygon points="557.0,264.5 563.8,261.8 563.8,265.8 557.0,268.6" fill="#d890a8" />
<path d="M540.5,270.5 L554,275.5 L554,291 L542.5,284.5 Q540.3,283 540.5,270.5 Z" fill="url(#dk1)"/>
<polygon points="554.0,275.5 558.0,273.5 558.0,289.0 554.0,291.0" fill="#a2442a" />
<polygon points="540.5,270.5 547.0,266.5 558.0,273.5 554.0,275.5" fill="#eeb09c" />
<ellipse cx="570.0" cy="262.5" rx="2.8" ry="3.2" fill="#d8904a" />
<path d="M567,262 q0.4,-4.2 3.6,-3.8 q2.8,0.4 2.4,3.4 l-2,-1 l-2.6,0.2 Z" fill="#f0a21c"/>
<path d="M566.5,266.5 L573.5,266 L574.8,276.5 L560,278.5 L555.5,274.5 L557,272 L562,274 Z" fill="#28a866"/>
<path d="M559,278.5 L574.8,276.3 L574.5,284 L570.5,286 L567,281.5 L563,287 L558.5,285 Z" fill="#5e2890"/>
<ellipse cx="574.3" cy="286.5" rx="2.2" ry="1.1" fill="#222" />
<ellipse cx="563.5" cy="288.3" rx="2.2" ry="1.1" fill="#222" />
<polygon points="536.0,340.0 584.0,364.0 596.0,376.0 622.0,366.0 624.0,352.0 600.0,334.0" fill="#666" opacity="0.55" filter="url(#blur2)"/>
<ellipse cx="538.5" cy="342.0" rx="3.4" ry="4.0" fill="#1c1c1c" />
<ellipse cx="538.2" cy="342.0" rx="1.7" ry="2.1" fill="#8e8e92" />
<ellipse cx="538.2" cy="342.0" rx="0.9" ry="1.1" fill="#d0d0d4" />
<ellipse cx="549.5" cy="347.0" rx="3.4" ry="4.0" fill="#1c1c1c" />
<ellipse cx="549.2" cy="347.0" rx="1.7" ry="2.1" fill="#8e8e92" />
<ellipse cx="549.2" cy="347.0" rx="0.9" ry="1.1" fill="#d0d0d4" />
<ellipse cx="575.0" cy="361.0" rx="3.4" ry="4.0" fill="#1c1c1c" />
<ellipse cx="574.7" cy="361.0" rx="1.7" ry="2.1" fill="#8e8e92" />
<ellipse cx="574.7" cy="361.0" rx="0.9" ry="1.1" fill="#d0d0d4" />
<ellipse cx="592.0" cy="370.0" rx="3.4" ry="4.0" fill="#1c1c1c" />
<ellipse cx="591.7" cy="370.0" rx="1.7" ry="2.1" fill="#8e8e92" />
<ellipse cx="591.7" cy="370.0" rx="0.9" ry="1.1" fill="#d0d0d4" />
<polygon points="531.3,315.0 548.3,305.8 600.0,330.0 582.5,339.2" fill="url(#t2top)" />
<polygon points="531.3,315.0 582.5,339.2 582.5,358.5 533.0,336.0" fill="url(#t2side)" />
<line x1="531.6" y1="319.2" x2="582.5" y2="343.1" stroke="#7fca7c" stroke-width="0.7" />
<line x1="532.0" y1="323.4" x2="582.5" y2="346.9" stroke="#7fca7c" stroke-width="0.7" />
<line x1="532.3" y1="327.6" x2="582.5" y2="350.8" stroke="#7fca7c" stroke-width="0.7" />
<line x1="532.7" y1="331.8" x2="582.5" y2="354.6" stroke="#7fca7c" stroke-width="0.7" />
<line x1="531.3" y1="315.0" x2="582.5" y2="339.2" stroke="#5cc058" stroke-width="0.7" />
<line x1="582.7" y1="339.2" x2="600.3" y2="330.2" stroke="#1a6e22" stroke-width="1.6" />
<line x1="582.8" y1="339.5" x2="582.8" y2="358.8" stroke="#14601c" stroke-width="1.4" />
<path d="M583,340 L600.5,331 Q606,332.5 609.5,338 L620,348 L620.5,364 L601,373.5 L591,368 L583,359 Z" fill="url(#t2cab)"/>
<path d="M583.3,339.7 L600.8,330.8 Q606,332.5 608.6,337.4 L591.7,346.7 Z" fill="url(#t2roof)"/>
<polygon points="592.5,348.0 607.8,339.8 609.3,345.3 594.0,353.5" fill="url(#t2ws)" />
<polygon points="585.0,344.0 590.5,349.0 591.0,355.0 585.5,350.5" fill="#bfe2ee" />
<polygon points="594.0,354.0 609.5,346.0 620.0,349.0 604.0,357.5" fill="#2f9e38" />
<ellipse cx="600.5" cy="355.0" rx="4.2" ry="2.4" fill="#52bc4c" transform="rotate(-27 600.5 355)"/>
<ellipse cx="613.5" cy="348.6" rx="4.0" ry="2.2" fill="#52bc4c" transform="rotate(-27 613.5 348.6)"/>
<polygon points="604.0,358.0 620.0,349.5 620.5,363.5 602.0,372.5" fill="#0f4a18" />
<polygon points="608.0,357.5 615.5,353.5 615.8,363.5 607.6,367.8" fill="#3a3a44" />
<line x1="603.3" y1="363.1" x2="620.2" y2="354.4" stroke="#a8d8a0" stroke-width="0.7" />
<line x1="602.6" y1="368.1" x2="620.4" y2="359.3" stroke="#a8d8a0" stroke-width="0.7" />
<line x1="602.2" y1="371.3" x2="620.5" y2="362.4" stroke="#c8ccd0" stroke-width="1.3" />
<ellipse cx="603.5" cy="364.5" rx="1.3" ry="1.6" fill="#f0eeb0" />
<ellipse cx="619.0" cy="356.5" rx="1.2" ry="1.5" fill="#f0eeb0" />
<polygon points="351.2,327.6 369.1,348.9 452.0,275.2" fill="url(#tl1)" />
<ellipse cx="328.8" cy="355.3" rx="49.3" ry="42.3" fill="#c6e7f3" />
<polygon points="421.3,388.5 442.6,389.7 474.6,313.5" fill="url(#tl2)" />
<ellipse cx="417.0" cy="421.6" rx="49.2" ry="43.0" fill="#c6e7f3" />
<polygon points="520.1,389.5 540.2,382.8 491.5,310.0" fill="url(#tl3)" />
<ellipse cx="537.5" cy="415.8" rx="48.8" ry="42.0" fill="#c6e7f3" />
<polygon points="645.5,307.0 646.6,324.4 529.0,297.5" fill="url(#tl4)" />
<ellipse cx="681.5" cy="315.0" rx="49.6" ry="42.8" fill="#c6e7f3" />
<polygon points="646.1,221.5 655.6,231.0 561.0,254.0" fill="url(#tl5)" />
<ellipse cx="680.0" cy="207.5" rx="50.0" ry="42.5" fill="#c6e7f3" />
<polygon points="392.0,180.0 401.0,165.0 495.5,192.7" fill="url(#tl6)" />
<ellipse cx="363.5" cy="147.3" rx="49.3" ry="43.0" fill="#cfe9f3" filter="url(#blur1)"/>
<ellipse cx="363.5" cy="147.3" rx="44.5" ry="38.3" fill="#0a0810" />
<text x="623.8" y="127.4" font-size="11.2" fill="#1a1a1a" font-family="&quot;Liberation Sans&quot;, &quot;Noto Sans CJK SC&quot;, sans-serif">无线打印</text>
<text x="457.8" y="149.3" font-size="11" fill="#1a1a1a" font-family="&quot;Liberation Sans&quot;, &quot;Noto Sans CJK SC&quot;, sans-serif">收货</text>
<text x="457.1" y="162.5" font-size="10.6" fill="#1a1a1a" font-family="&quot;Liberation Sans&quot;, &quot;Noto Sans CJK SC&quot;, sans-serif">RFID</text>
<text x="383" y="201" font-size="11.2" fill="#1a1a1a" font-family="&quot;Liberation Sans&quot;, &quot;Noto Sans CJK SC&quot;, sans-serif">包装</text>
<text x="291" y="259.3" font-size="10.6" fill="#1a1a1a" font-family="&quot;Liberation Sans&quot;, &quot;Noto Sans CJK SC&quot;, sans-serif">AP</text>
<text x="735.8" y="237.3" font-size="11.2" fill="#1a1a1a" font-family="&quot;Liberation Sans&quot;, &quot;Noto Sans CJK SC&quot;, sans-serif">单据管理</text>
<text x="711.6" y="377" font-size="10.6" fill="#1a1a1a" font-family="&quot;Liberation Sans&quot;, &quot;Noto Sans CJK SC&quot;, sans-serif">RFID</text>
<text x="270.5" y="398.7" font-size="11" fill="#1a1a1a" font-family="&quot;Liberation Sans&quot;, &quot;Noto Sans CJK SC&quot;, sans-serif">拣货</text>
<text x="355.4" y="480.8" font-size="11.3" font-weight="bold" fill="#1a1a1a" font-family="&quot;Liberation Sans&quot;, &quot;Noto Sans CJK SC&quot;, sans-serif">存货盘点</text>
<text x="612" y="398.3" font-size="11" fill="#1a1a1a" font-family="&quot;Liberation Sans&quot;, &quot;Noto Sans CJK SC&quot;, sans-serif">发货</text>
<text x="612.4" y="412.3" font-size="10.6" fill="#1a1a1a" font-family="&quot;Liberation Sans&quot;, &quot;Noto Sans CJK SC&quot;, sans-serif">RFID</text>
<text x="597.2" y="435.4" font-size="11.1" fill="#1a1a1a" font-family="&quot;Liberation Sans&quot;, &quot;Noto Sans CJK SC&quot;, sans-serif">订单核对</text>
<text x="642.5" y="435.4" font-size="10.6" fill="#1a1a1a" font-family="&quot;Liberation Sans&quot;, &quot;Noto Sans CJK SC&quot;, sans-serif">/</text>
<text x="645.9" y="435.4" font-size="11.1" fill="#1a1a1a" font-family="&quot;Liberation Sans&quot;, &quot;Noto Sans CJK SC&quot;, sans-serif">合并</text>
<polygon points="343.0,354.0 350.0,357.0 340.0,366.0 334.0,363.0" fill="#222" />
<polygon points="317.0,368.8 336.3,361.3 358.0,367.5 341.3,376.3" fill="#15151a" />
<polygon points="317.0,368.8 341.3,376.3 341.3,377.8 317.0,370.2" fill="#3a3a40" />
<polygon points="315.8,322.8 357.2,330.3 346.3,358.8 308.0,350.0" fill="#d6cfd6" />
<polygon points="357.5,330.0 360.5,333.0 349.5,360.5 346.3,358.8" fill="#5a5c66" />
<polygon points="308.0,350.0 346.3,358.8 349.5,360.5 310.0,352.3" fill="#7d8089" />
<polygon points="318.0,324.9 354.6,331.6 345.0,356.2 311.0,348.7" fill="url(#scr1)" />
<line x1="326.0" y1="343.0" x2="341.0" y2="346.0" stroke="#b9a8ff" stroke-width="0.8" opacity="0.8"/>
<polygon points="305.5,357.0 317.0,355.0 321.0,359.5 312.0,364.0 306.0,362.0" fill="#2c2c33" />
<polygon points="307.5,361.0 313.0,363.5 309.5,380.5 300.5,380.0 303.0,372.0" fill="#3b3b44" />
<polygon points="300.5,380.0 309.5,380.5 309.0,382.5 300.0,382.0" fill="#6a5038" />
<path d="M408.2,386.5 Q423,385 437.5,391.5 L436.8,406 Q434,416 427.5,424.5 L419.8,453 Q409,455.5 398.3,450.5 L403.5,421 L406,405 Z" fill="url(#hh1)"/>
<path d="M437.5,391.5 L436.8,406 Q434,416 427.5,424.5 L419.8,453 L417,453.4 L424.5,424 Q431,415 433.2,405.5 L434,390 Z" fill="#2e2b35"/>
<path d="M408.2,386.5 Q423,385 437.5,391.5 L437.2,397.5 Q423,390.5 407.6,392 Z" fill="#2a2830"/>
<path d="M407.9,389 Q423,387.5 437.3,394" fill="none" stroke="#8a8692" stroke-width="0.7"/>
<polygon points="409.2,396.5 428.5,400.2 426.3,414.8 407.0,411.0" fill="#8a8792" />
<polygon points="410.8,398.6 426.8,401.6 425.0,412.7 409.0,409.6" fill="#d4d4d9" />
<polygon points="405.0,415.5 424.5,419.5 418.0,449.5 399.8,446.0" fill="#35323c" />
<ellipse cx="407.0" cy="418.3" rx="1.1" ry="1.0" fill="#eae4d6" />
<ellipse cx="410.6" cy="419.1" rx="1.1" ry="1.0" fill="#eae4d6" />
<ellipse cx="414.2" cy="419.8" rx="1.1" ry="1.0" fill="#eae4d6" />
<ellipse cx="417.8" cy="420.6" rx="1.1" ry="1.0" fill="#eae4d6" />
<ellipse cx="421.4" cy="421.3" rx="1.1" ry="1.0" fill="#eae4d6" />
<ellipse cx="406.2" cy="421.9" rx="1.1" ry="1.0" fill="#eae4d6" />
<ellipse cx="409.8" cy="422.6" rx="1.1" ry="1.0" fill="#eae4d6" />
<ellipse cx="413.4" cy="423.4" rx="1.1" ry="1.0" fill="#eae4d6" />
<ellipse cx="417.0" cy="424.1" rx="1.1" ry="1.0" fill="#eae4d6" />
<ellipse cx="420.6" cy="424.9" rx="1.1" ry="1.0" fill="#eae4d6" />
<ellipse cx="405.4" cy="425.4" rx="1.1" ry="1.0" fill="#eae4d6" />
<ellipse cx="409.0" cy="426.2" rx="1.1" ry="1.0" fill="#eae4d6" />
<ellipse cx="412.6" cy="426.9" rx="1.1" ry="1.0" fill="#eae4d6" />
<ellipse cx="416.2" cy="427.7" rx="1.1" ry="1.0" fill="#eae4d6" />
<ellipse cx="419.8" cy="428.4" rx="1.1" ry="1.0" fill="#eae4d6" />
<ellipse cx="404.7" cy="428.9" rx="1.1" ry="1.0" fill="#eae4d6" />
<ellipse cx="408.3" cy="429.7" rx="1.1" ry="1.0" fill="#eae4d6" />
<ellipse cx="411.9" cy="430.4" rx="1.1" ry="1.0" fill="#eae4d6" />
<ellipse cx="415.5" cy="431.2" rx="1.1" ry="1.0" fill="#eae4d6" />
<ellipse cx="419.1" cy="431.9" rx="1.1" ry="1.0" fill="#eae4d6" />
<ellipse cx="403.9" cy="432.5" rx="1.1" ry="1.0" fill="#eae4d6" />
<ellipse cx="407.5" cy="433.2" rx="1.1" ry="1.0" fill="#eae4d6" />
<ellipse cx="411.1" cy="434.0" rx="1.1" ry="1.0" fill="#eae4d6" />
<ellipse cx="414.7" cy="434.8" rx="1.1" ry="1.0" fill="#eae4d6" />
<ellipse cx="418.3" cy="435.5" rx="1.1" ry="1.0" fill="#eae4d6" />
<ellipse cx="403.1" cy="436.1" rx="1.1" ry="1.0" fill="#eae4d6" />
<ellipse cx="406.7" cy="436.8" rx="1.1" ry="1.0" fill="#eae4d6" />
<ellipse cx="410.3" cy="437.6" rx="1.1" ry="1.0" fill="#eae4d6" />
<ellipse cx="413.9" cy="438.3" rx="1.1" ry="1.0" fill="#eae4d6" />
<ellipse cx="417.5" cy="439.1" rx="1.1" ry="1.0" fill="#eae4d6" />
<ellipse cx="402.3" cy="439.6" rx="1.1" ry="1.0" fill="#eae4d6" />
<ellipse cx="405.9" cy="440.4" rx="1.1" ry="1.0" fill="#eae4d6" />
<ellipse cx="409.5" cy="441.1" rx="1.1" ry="1.0" fill="#3aa04a" />
<ellipse cx="413.1" cy="441.9" rx="1.1" ry="1.0" fill="#d8241e" />
<ellipse cx="416.7" cy="442.6" rx="1.1" ry="1.0" fill="#eae4d6" />
<ellipse cx="401.5" cy="443.2" rx="1.1" ry="1.0" fill="#eae4d6" />
<ellipse cx="405.1" cy="443.9" rx="1.1" ry="1.0" fill="#eae4d6" />
<ellipse cx="408.7" cy="444.7" rx="1.1" ry="1.0" fill="#eae4d6" />
<ellipse cx="412.3" cy="445.4" rx="1.1" ry="1.0" fill="#d8241e" />
<ellipse cx="415.9" cy="446.2" rx="1.1" ry="1.0" fill="#eae4d6" />
<polygon points="411.7,441.8 415.2,442.6 414.0,449.0 410.5,448.2" fill="#d8241e" />
<path d="M530,411 L545,420 Q543.5,434 543.4,448.2 L533.5,446 L527.3,440.6 Q529.5,426 530,411 Z" fill="url(#gh)"/>
<path d="M513,388 L553,421.5 L576.8,417.5 L576.8,423.5 Q574,428 571,428.8 L555.5,430.5 Q536,414 514,394.5 Q512.5,391.5 513,388 Z" fill="#2c2628"/>
<path d="M553,421.5 L576.8,417.5 L576.8,423.5 Q574,428 571,428.8 L555.5,430.5 Z" fill="#1a1618"/>
<path d="M558,425 L571,423.6 L570.5,426.4 L558.5,427.8 Z" fill="#0a0809"/>
<path d="M513,388 Q514,385.8 517.5,385.6 L534.5,384 L576.8,417.5 L553,421.5 Z" fill="url(#gd)"/>
<path d="M513,388 Q514,385.8 517.5,385.6 L534.5,384" fill="none" stroke="#8a7e82" stroke-width="0.8"/>
<line x1="513.2" y1="388.2" x2="553.0" y2="421.6" stroke="#6e6468" stroke-width="0.7" />
<ellipse cx="518.2" cy="396.6" rx="1.3" ry="0.9" fill="#d8b030" />
<ellipse cx="521.0" cy="399.2" rx="1.2" ry="0.8" fill="#c8a028" />
<polygon points="523.5,391.0 539.0,389.3 553.0,401.8 537.0,405.3" fill="url(#gs)" />
<ellipse cx="541.5" cy="408.7" rx="0.9" ry="0.8" fill="#8e888c" />
<ellipse cx="544.4" cy="407.1" rx="0.9" ry="0.8" fill="#8e888c" />
<ellipse cx="547.3" cy="405.6" rx="0.9" ry="0.8" fill="#8e888c" />
<ellipse cx="550.2" cy="404.1" rx="0.9" ry="0.8" fill="#8e888c" />
<ellipse cx="546.1" cy="412.0" rx="0.9" ry="0.8" fill="#8e888c" />
<ellipse cx="549.0" cy="410.4" rx="0.9" ry="0.8" fill="#8e888c" />
<ellipse cx="551.9" cy="408.9" rx="0.9" ry="0.8" fill="#8e888c" />
<ellipse cx="554.8" cy="407.4" rx="0.9" ry="0.8" fill="#8e888c" />
<ellipse cx="550.7" cy="415.3" rx="0.9" ry="0.8" fill="#8e888c" />
<ellipse cx="553.6" cy="413.8" rx="0.9" ry="0.8" fill="#8e888c" />
<ellipse cx="556.5" cy="412.2" rx="0.9" ry="0.8" fill="#8e888c" />
<ellipse cx="559.4" cy="410.7" rx="0.9" ry="0.8" fill="#8e888c" />
<ellipse cx="555.3" cy="418.6" rx="0.9" ry="0.8" fill="#8e888c" />
<ellipse cx="558.2" cy="417.0" rx="0.9" ry="0.8" fill="#8e888c" />
<ellipse cx="561.1" cy="415.5" rx="0.9" ry="0.8" fill="#8e888c" />
<ellipse cx="564.0" cy="413.9" rx="0.9" ry="0.8" fill="#8e888c" />
<ellipse cx="559.9" cy="421.9" rx="0.9" ry="0.8" fill="#8e888c" />
<ellipse cx="562.8" cy="420.3" rx="0.9" ry="0.8" fill="#8e888c" />
<ellipse cx="565.7" cy="418.8" rx="0.9" ry="0.8" fill="#8e888c" />
<ellipse cx="568.6" cy="417.2" rx="0.9" ry="0.8" fill="#8e888c" />
<polygon points="646.0,308.0 675.0,297.0 717.5,299.0 697.0,312.0" fill="#2b2930" />
<polygon points="646.0,308.0 697.0,312.0 697.0,330.5 646.0,327.5" fill="#1c1619" />
<polygon points="697.0,312.0 717.5,299.0 717.5,315.5 697.0,330.5" fill="#1a1115" />
<polygon points="648.0,310.5 695.5,314.2 695.5,319.0 648.0,315.3" fill="#8f8d96" />
<polygon points="650.0,311.6 660.0,312.4 660.0,315.4 650.0,314.6" fill="#e8e8ee" />
<ellipse cx="665.0" cy="315.2" rx="0.9" ry="0.9" fill="#2a2830" />
<ellipse cx="670.0" cy="315.2" rx="0.9" ry="0.9" fill="#2a2830" />
<ellipse cx="675.0" cy="315.2" rx="0.9" ry="0.9" fill="#2a2830" />
<ellipse cx="680.0" cy="315.2" rx="0.9" ry="0.9" fill="#2a2830" />
<polygon points="684.0,314.2 693.0,314.9 693.0,317.9 684.0,317.2" fill="#d9d9e0" />
<polygon points="653.5,320.5 658.5,320.9 658.5,325.0 653.5,324.6" fill="#05050a" />
<ellipse cx="666.0" cy="323.5" rx="1.8" ry="1.8" fill="#c9b060" />
<ellipse cx="666.0" cy="323.5" rx="0.8" ry="0.8" fill="#33291a" />
<ellipse cx="689.0" cy="322.5" rx="2.6" ry="2.4" fill="#9a9aa4" />
<ellipse cx="689.0" cy="322.5" rx="1.5" ry="1.4" fill="#15151a" />
<polygon points="675.0,215.5 696.0,216.0 697.0,223.0 674.5,222.5" fill="#d2cac2" />
<polygon points="681.0,212.0 691.0,212.0 691.5,217.0 680.5,217.0" fill="#bdb5ad" />
<ellipse cx="686.0" cy="223.0" rx="11.5" ry="2.2" fill="#b8b0a8" />
<rect x="661" y="181" width="45.5" height="33.5" rx="1.5" fill="#e2dcd6"/>
<rect x="663.3" y="183.2" width="41" height="27.5" fill="#ffffff"/>
<rect x="663.3" y="183.2" width="41" height="2.4" fill="#7a7c88"/>
<rect x="663.3" y="185.6" width="41" height="1.8" fill="#c9ccd6"/>
<rect x="666" y="190" width="14" height="0.8" fill="#9aa0b0"/>
<rect x="666" y="193" width="10" height="0.8" fill="#9aa0b0"/>
<rect x="685" y="190" width="12" height="0.8" fill="#9aa0b0"/>
<rect x="668" y="199" width="4.5" height="3.6" fill="none" stroke="#8a90a0" stroke-width="0.5"/>
<rect x="677" y="202" width="4.5" height="3.6" fill="none" stroke="#8a90a0" stroke-width="0.5"/>
<rect x="688" y="198" width="4.5" height="3.6" fill="none" stroke="#8a90a0" stroke-width="0.5"/>
<rect x="696" y="202" width="4.5" height="3.6" fill="none" stroke="#8a90a0" stroke-width="0.5"/>
<line x1="672.5" y1="201.0" x2="677.0" y2="203.5" stroke="#9aa0b0" stroke-width="0.5" />
<line x1="692.5" y1="200.0" x2="696.0" y2="203.5" stroke="#9aa0b0" stroke-width="0.5" />
<g transform="rotate(-22 644 218)"><rect x="637.5" y="206.5" width="13" height="23.5" rx="2.2" fill="#26242b"/><rect x="639.8" y="209.5" width="8.4" height="8" fill="#9ad0a0"/><rect x="639.8" y="209.5" width="8.4" height="2.2" fill="#e8e8e8"/><rect x="640" y="220" width="8" height="7" fill="#3a3840"/></g>
<g transform="rotate(-8 658 212)"><rect x="651.5" y="199" width="12.5" height="26.5" rx="2" fill="#3a2f34"/><rect x="653.6" y="202" width="8.3" height="8.5" fill="#a8d8a0"/><rect x="653.6" y="202" width="8.3" height="2.2" fill="#f0e8d0"/><rect x="653.5" y="213" width="8.5" height="9" fill="#c2452c"/><rect x="654.5" y="214" width="6.5" height="7" fill="#54403c"/></g>
<g transform="rotate(-3 715 212)"><path d="M709.5,199.5 h10.5 v12 l-1.5,13.5 h-7.5 l-1.5,-13.5 Z" fill="#1d1b22"/><rect x="711.2" y="201.8" width="7.2" height="6.3" fill="#b0d890"/><rect x="711.2" y="201.8" width="7.2" height="1.8" fill="#f0c040"/><rect x="711.6" y="210" width="6.3" height="2.6" fill="#c8c0b0"/></g>
<g clip-path="url(#dkc)">
<rect x="318" y="108" width="92" height="80" fill="url(#dkbg)"/>
<rect x="318" y="108" width="92" height="24" fill="#1c142c"/>
<line x1="330.0" y1="108.0" x2="331.5" y2="128.0" stroke="#4a3870" stroke-width="0.9" opacity="0.45"/>
<line x1="334.0" y1="108.0" x2="335.5" y2="128.0" stroke="#4a3870" stroke-width="0.9" opacity="0.45"/>
<line x1="338.0" y1="108.0" x2="339.5" y2="128.0" stroke="#4a3870" stroke-width="0.9" opacity="0.45"/>
<line x1="342.0" y1="108.0" x2="343.5" y2="128.0" stroke="#4a3870" stroke-width="0.9" opacity="0.45"/>
<line x1="346.0" y1="108.0" x2="347.5" y2="128.0" stroke="#4a3870" stroke-width="0.9" opacity="0.45"/>
<line x1="350.0" y1="108.0" x2="351.5" y2="128.0" stroke="#4a3870" stroke-width="0.9" opacity="0.45"/>
<line x1="354.0" y1="108.0" x2="355.5" y2="128.0" stroke="#4a3870" stroke-width="0.9" opacity="0.45"/>
<line x1="358.0" y1="108.0" x2="359.5" y2="128.0" stroke="#4a3870" stroke-width="0.9" opacity="0.45"/>
<line x1="362.0" y1="108.0" x2="363.5" y2="128.0" stroke="#4a3870" stroke-width="0.9" opacity="0.45"/>
<line x1="366.0" y1="108.0" x2="367.5" y2="128.0" stroke="#4a3870" stroke-width="0.9" opacity="0.45"/>
<line x1="370.0" y1="108.0" x2="371.5" y2="128.0" stroke="#4a3870" stroke-width="0.9" opacity="0.45"/>
<line x1="374.0" y1="108.0" x2="375.5" y2="128.0" stroke="#4a3870" stroke-width="0.9" opacity="0.45"/>
<line x1="378.0" y1="108.0" x2="379.5" y2="128.0" stroke="#4a3870" stroke-width="0.9" opacity="0.45"/>
<line x1="382.0" y1="108.0" x2="383.5" y2="128.0" stroke="#4a3870" stroke-width="0.9" opacity="0.45"/>
<line x1="386.0" y1="108.0" x2="387.5" y2="128.0" stroke="#4a3870" stroke-width="0.9" opacity="0.45"/>
<line x1="390.0" y1="108.0" x2="391.5" y2="128.0" stroke="#4a3870" stroke-width="0.9" opacity="0.45"/>
<line x1="394.0" y1="108.0" x2="395.5" y2="128.0" stroke="#4a3870" stroke-width="0.9" opacity="0.45"/>
<line x1="398.0" y1="108.0" x2="399.5" y2="128.0" stroke="#4a3870" stroke-width="0.9" opacity="0.45"/>
<line x1="402.0" y1="108.0" x2="403.5" y2="128.0" stroke="#4a3870" stroke-width="0.9" opacity="0.45"/>
<line x1="406.0" y1="108.0" x2="407.5" y2="128.0" stroke="#4a3870" stroke-width="0.9" opacity="0.45"/>
<path d="M340.0,129.0 q1.2,-4.2 2.2,-7.0 q0.8,3.5 0.2,7.0 Z" fill="#a87828" opacity="0.85"/>
<path d="M345.0,128.0 q1.2,-5.4 2.2,-9.0 q0.8,4.5 0.2,9.0 Z" fill="#c8a040" opacity="0.85"/>
<path d="M350.0,129.5 q1.2,-3.6 2.2,-6.0 q0.8,3.0 0.2,6.0 Z" fill="#8a6420" opacity="0.85"/>
<path d="M371.0,130.0 q1.2,-4.8 2.2,-8.0 q0.8,4.0 0.2,8.0 Z" fill="#c8b040" opacity="0.85"/>
<path d="M376.0,131.0 q1.2,-5.1 2.2,-8.5 q0.8,4.2 0.2,8.5 Z" fill="#d8c048" opacity="0.85"/>
<path d="M381.0,132.5 q1.2,-4.2 2.2,-7.0 q0.8,3.5 0.2,7.0 Z" fill="#b89830" opacity="0.85"/>
<path d="M386.0,134.0 q1.2,-3.6 2.2,-6.0 q0.8,3.0 0.2,6.0 Z" fill="#a88828" opacity="0.85"/>
<path d="M396.0,133.0 q1.2,-3.6 2.2,-6.0 q0.8,3.0 0.2,6.0 Z" fill="#b09028" opacity="0.85"/>
<path d="M401.0,134.0 q1.2,-3.0 2.2,-5.0 q0.8,2.5 0.2,5.0 Z" fill="#a08020" opacity="0.85"/>
<line x1="318.0" y1="129.0" x2="409.0" y2="139.0" stroke="#3c3846" stroke-width="1.4" />
<line x1="318.0" y1="131.9" x2="409.0" y2="140.1" stroke="#8a8896" stroke-width="1.1" opacity="0.38"/>
<line x1="318.0" y1="139.0" x2="409.0" y2="144.0" stroke="#6e6c7a" stroke-width="0.8" opacity="0.38"/>
<line x1="318.0" y1="146.1" x2="409.0" y2="147.9" stroke="#8a8896" stroke-width="1.1" opacity="0.38"/>
<line x1="318.0" y1="153.2" x2="409.0" y2="151.8" stroke="#6e6c7a" stroke-width="0.8" opacity="0.38"/>
<line x1="318.0" y1="160.2" x2="409.0" y2="155.7" stroke="#8a8896" stroke-width="1.1" opacity="0.38"/>
<line x1="318.0" y1="167.3" x2="409.0" y2="159.6" stroke="#6e6c7a" stroke-width="0.8" opacity="0.38"/>
<line x1="318.0" y1="174.4" x2="409.0" y2="163.5" stroke="#8a8896" stroke-width="1.1" opacity="0.38"/>
<line x1="318.0" y1="181.5" x2="409.0" y2="167.4" stroke="#6e6c7a" stroke-width="0.8" opacity="0.38"/>
<line x1="318.0" y1="188.6" x2="409.0" y2="171.3" stroke="#8a8896" stroke-width="1.1" opacity="0.38"/>
<polygon points="347.5,143.5 389.5,146.0 389.5,154.5 347.5,152.5" fill="#2a2650" />
<polygon points="349.0,144.6 388.0,146.9 388.0,153.5 349.0,151.5" fill="#4a4490" />
<ellipse cx="360.0" cy="149.3" rx="1.5" ry="1.5" fill="#1c1840" opacity="0.8"/>
<ellipse cx="366.0" cy="149.6" rx="2.0" ry="1.5" fill="#1c1840" opacity="0.8"/>
<ellipse cx="372.0" cy="149.9" rx="1.8" ry="1.5" fill="#1c1840" opacity="0.8"/>
<ellipse cx="378.0" cy="150.2" rx="2.0" ry="1.5" fill="#1c1840" opacity="0.8"/>
<ellipse cx="383.0" cy="150.5" rx="1.2" ry="1.5" fill="#1c1840" opacity="0.8"/>
<rect x="328" y="143.8" width="11" height="1.5" fill="#a8a8b8" opacity="0.9"/>
<rect x="328" y="148" width="13" height="1" fill="#6a6878"/>
<ellipse cx="379.0" cy="181.0" rx="5.0" ry="4.5" fill="#a87420" filter="url(#blur1)"/>
</g>
<ellipse cx="256" cy="222" rx="67" ry="18" fill="none" stroke="#0c0c0c" stroke-width="1.75" stroke-linecap="round" stroke-dasharray="0.1 3.15"/>
<ellipse cx="256" cy="222" rx="55.5" ry="15" fill="none" stroke="#0c0c0c" stroke-width="1.75" stroke-linecap="round" stroke-dasharray="0.1 3.15"/>
<ellipse cx="256" cy="222" rx="45" ry="12" fill="none" stroke="#0c0c0c" stroke-width="1.75" stroke-linecap="round" stroke-dasharray="0.1 3.15"/>
<path d="M231.3,223 Q254,225.5 274.4,233.8 L274.4,279.5 L233,269.5 Z" fill="url(#apb)"/>
<path d="M231.3,223 L233,269.5 L234.3,269.8 L232.8,223.2 Z" fill="#eef0e6"/>
<path d="M231.3,223 Q254,225.5 274.4,233.8 L274.4,235.2 Q254,226.9 231.4,224.4 Z" fill="#ecEEe2"/>
<polygon points="240.6,234.0 260.0,238.5 260.0,246.0 240.6,241.5" fill="#e2e4d8" />
<ellipse cx="242.0" cy="235.6" rx="0.6" ry="0.6" fill="#f8f8f2" />
<ellipse cx="244.3" cy="236.1" rx="0.6" ry="0.6" fill="#f8f8f2" />
<ellipse cx="246.6" cy="236.7" rx="0.6" ry="0.6" fill="#f8f8f2" />
<ellipse cx="248.9" cy="237.2" rx="0.6" ry="0.6" fill="#f8f8f2" />
<ellipse cx="251.2" cy="237.7" rx="0.6" ry="0.6" fill="#f8f8f2" />
<ellipse cx="253.5" cy="238.2" rx="0.6" ry="0.6" fill="#f8f8f2" />
<ellipse cx="255.8" cy="238.8" rx="0.6" ry="0.6" fill="#f8f8f2" />
<ellipse cx="258.1" cy="239.3" rx="0.6" ry="0.6" fill="#f8f8f2" />
<ellipse cx="242.0" cy="237.7" rx="0.6" ry="0.6" fill="#f8f8f2" />
<ellipse cx="244.3" cy="238.2" rx="0.6" ry="0.6" fill="#f8f8f2" />
<ellipse cx="246.6" cy="238.8" rx="0.6" ry="0.6" fill="#f8f8f2" />
<ellipse cx="248.9" cy="239.3" rx="0.6" ry="0.6" fill="#f8f8f2" />
<ellipse cx="251.2" cy="239.8" rx="0.6" ry="0.6" fill="#f8f8f2" />
<ellipse cx="253.5" cy="240.3" rx="0.6" ry="0.6" fill="#f8f8f2" />
<ellipse cx="255.8" cy="240.9" rx="0.6" ry="0.6" fill="#f8f8f2" />
<ellipse cx="258.1" cy="241.4" rx="0.6" ry="0.6" fill="#f8f8f2" />
<ellipse cx="242.0" cy="239.8" rx="0.6" ry="0.6" fill="#f8f8f2" />
<ellipse cx="244.3" cy="240.3" rx="0.6" ry="0.6" fill="#f8f8f2" />
<ellipse cx="246.6" cy="240.9" rx="0.6" ry="0.6" fill="#f8f8f2" />
<ellipse cx="248.9" cy="241.4" rx="0.6" ry="0.6" fill="#f8f8f2" />
<ellipse cx="251.2" cy="241.9" rx="0.6" ry="0.6" fill="#f8f8f2" />
<ellipse cx="253.5" cy="242.4" rx="0.6" ry="0.6" fill="#f8f8f2" />
<ellipse cx="255.8" cy="243.0" rx="0.6" ry="0.6" fill="#f8f8f2" />
<ellipse cx="258.1" cy="243.5" rx="0.6" ry="0.6" fill="#f8f8f2" />
<polygon points="247.5,237.8 252.0,238.8 252.0,240.6 247.5,239.6" fill="#2c2e26" />
<path d="M261.3,256.3 L264.2,258 L264.2,281.5 L261.3,285 Z" fill="#8a8c80"/>
<path d="M238.8,252.6 Q239,250.2 241.5,250.8 L259,255.2 Q261.3,255.9 261.3,258 L261.3,285 L239.4,278.8 Z" fill="#c6c8ba" stroke="#9a9c8e" stroke-width="0.6"/>
<path d="M238.8,252.6 Q239,250.2 241.5,250.8 L259,255.2 Q261.3,255.9 261.3,258 L261.2,259.6 Q261,257.6 258.8,257 L241.5,252.6 Q239.2,252.2 239,254.2 Z" fill="#e8eadf"/>
<g transform="matrix(1,0.25,0,1,0,-60.2)"><rect x="240.8" y="256.4" width="16.3" height="20" fill="#9a9c8e"/><rect x="241.3" y="256.9" width="15.3" height="19" fill="url(#mesh)"/></g>
<path d="M239.4,276.5 L261.3,282.7 L261.3,285 L239.4,278.8 Z" fill="#a9ab9e"/>
<line x1="234.5" y1="262.0" x2="236.5" y2="262.5" stroke="#a2a496" stroke-width="0.6" />
<line x1="234.5" y1="264.0" x2="236.5" y2="264.5" stroke="#a2a496" stroke-width="0.6" />
<line x1="234.5" y1="266.0" x2="236.5" y2="266.5" stroke="#a2a496" stroke-width="0.6" />
<path d="M586.2,106.3 A19.8,6.9 0 1 1 606.5,106.9" fill="none" stroke="#1a1a1a" stroke-width="1.15"/>
<ellipse cx="597.5" cy="100" rx="9.7" ry="3.4" fill="none" stroke="#1a1a1a" stroke-width="1.1"/>
<line x1="597.6" y1="103.5" x2="597.6" y2="118.0" stroke="#1a1a1a" stroke-width="1.9" />
<line x1="593.5" y1="107.6" x2="601.5" y2="107.6" stroke="#1a1a1a" stroke-width="0.8" />
<polygon points="576.0,167.0 611.0,146.5 617.0,150.0 584.0,171.0" fill="#888" opacity="0.45" filter="url(#blur2)"/>
<path d="M556.2,125.5 L584.7,115.7 Q598,116 611,120.2 L581,130.2 Z" fill="url(#ptop)"/>
<polygon points="556.2,125.5 581.0,130.2 580.2,166.0 554.0,151.0" fill="url(#pfr)" />
<polygon points="581.0,130.2 611.0,120.2 611.0,145.0 580.2,166.0" fill="url(#pside)" />
<line x1="581.0" y1="130.2" x2="580.2" y2="166.0" stroke="#8c8c96" stroke-width="0.6" />
<polygon points="556.6,128.5 563.8,130.2 563.5,146.5 556.2,143.0" fill="#5a5a66" />
<polygon points="557.6,130.3 562.8,131.6 562.7,135.8 557.5,134.4" fill="#0c1014" />
<polygon points="557.6,136.3 562.6,137.7 562.4,144.5 557.3,142.3" fill="#1e1e26" />
<polygon points="563.0,146.0 580.3,151.5 580.2,166.0 563.0,156.0" fill="#26262e" />
<polygon points="559.5,151.0 570.5,147.3 576.5,149.8 566.0,154.8" fill="#f6f6f8" />
<polygon points="559.5,151.0 566.0,154.8 566.0,155.8 559.5,152.0" fill="#c8c8d0" />
<polygon points="588.0,131.8 608.0,124.8 608.0,134.5 588.0,141.8" fill="#80808a" />
<polygon points="592.0,131.0 606.5,126.0 606.5,133.5 592.0,138.8" fill="#b4b4bc" />
<polygon points="596.0,130.0 601.5,128.0 601.5,135.0 596.0,137.0" fill="#dcdce2" />
</svg>
</body></html>
